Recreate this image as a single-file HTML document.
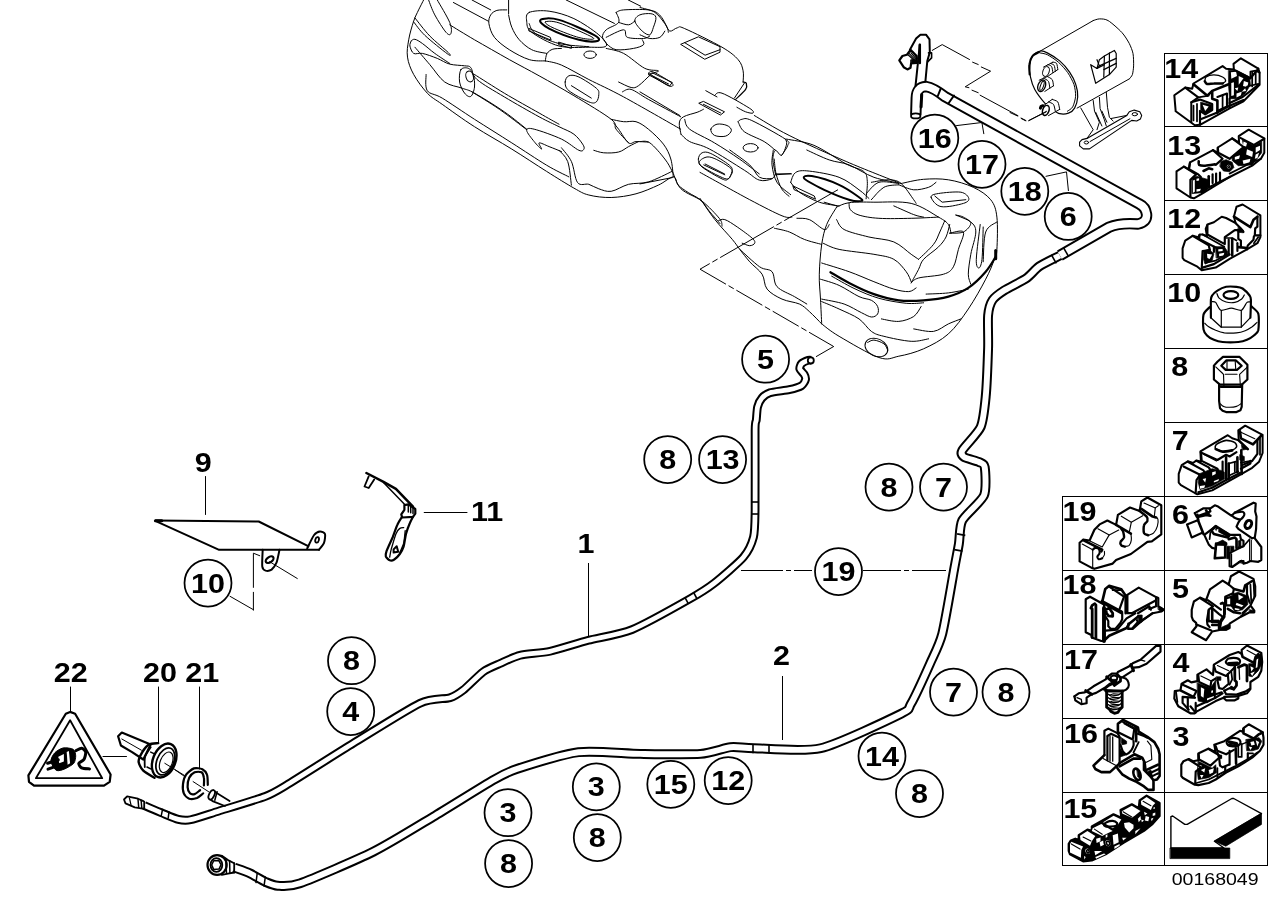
<!DOCTYPE html>
<html><head><meta charset="utf-8"><title>Fuel pipe and mounting parts</title>
<style>
html,body{margin:0;padding:0;background:#fff;}
body{width:1288px;height:910px;overflow:hidden;position:relative;}
svg{position:absolute;left:0;top:0;display:block;filter:grayscale(1);}
text{font-family:"Liberation Sans",sans-serif;font-weight:bold;fill:#000;}
.c{fill:#fff;stroke:#000;stroke-width:1.75;}
.n{font-size:28px;text-anchor:middle;}
.t{font-size:28px;text-anchor:start;}
.thin{fill:none;stroke:#000;stroke-width:1;}
.ln{fill:none;stroke:#000;stroke-width:1.2;stroke-linejoin:round;stroke-linecap:round;}
.po{fill:none;stroke:#000;stroke-width:8.8;stroke-linejoin:round;stroke-linecap:butt;}
.pi{fill:none;stroke:#fff;stroke-width:4.8;stroke-linejoin:round;stroke-linecap:butt;}
.ho{fill:none;stroke:#000;stroke-width:11.4;stroke-linejoin:round;stroke-linecap:butt;}
.qo{fill:none;stroke:#000;stroke-width:9.9;stroke-linejoin:round;stroke-linecap:butt;}
.qi{fill:none;stroke:#fff;stroke-width:5.9;stroke-linejoin:round;stroke-linecap:butt;}
.hi{fill:none;stroke:#fff;stroke-width:7.5;stroke-linejoin:round;stroke-linecap:butt;}
</style></head><body>
<svg width="1288" height="910" viewBox="0 0 1288 910">
<rect width="1288" height="910" fill="#fff"/>
<g id="tank" fill="none" stroke="#000" stroke-linejoin="round" stroke-linecap="round">
<path d="M423.6 0.0C422.8 1.7 420.3 6.4 418.6 9.9C417.0 13.5 415.3 16.1 413.7 21.1C412.0 26.1 409.7 33.7 408.7 39.8C407.7 45.8 406.6 51.3 407.5 57.1C408.3 62.9 410.4 68.5 413.7 74.5C417.0 80.5 422.6 88.2 427.3 93.2C432.1 98.1 434.4 98.8 442.2 104.3C450.1 109.9 462.9 119.3 474.5 126.7C486.1 134.2 499.8 141.6 511.8 149.1C523.8 156.5 536.2 164.9 546.6 171.4C556.9 177.9 566.9 184.1 573.9 188.1C581.0 192.0 582.6 193.5 588.8 195.0C595.0 196.6 603.3 197.7 611.2 197.5C619.0 197.3 628.2 195.9 636.0 193.8C643.9 191.7 652.2 187.9 658.4 185.1C664.6 182.3 670.0 176.9 673.3 176.9C676.6 176.9 675.8 182.5 678.3 185.1C680.7 187.7 684.5 190.1 688.2 192.5C691.9 195.0 697.1 196.9 700.6 200.0C704.1 203.1 706.1 207.2 709.3 211.2C712.5 215.1 718.2 221.5 720.0 223.6" stroke-width="1.0"/>
<path d="M426.1 74.5C426.3 77.2 424.6 86.7 427.3 90.7C430.0 94.6 434.4 93.4 442.2 98.1C450.1 102.9 462.9 111.8 474.5 119.3C486.1 126.7 499.8 135.2 511.8 142.9C523.8 150.5 537.1 159.5 546.6 165.2C556.1 170.9 565.2 174.9 568.9 176.9" stroke-width="1.0"/>
<path d="M561.5 147.8C563.1 150.1 568.7 155.7 571.4 161.5C574.1 167.3 574.7 178.8 577.6 182.6C580.5 186.4 585.3 183.3 588.8 184.3C592.3 185.4 595.0 187.7 598.8 188.8C602.5 190.0 606.2 192.0 611.2 191.3C616.1 190.6 622.4 185.9 628.6 184.3C634.8 182.8 641.2 184.0 648.4 181.9C655.7 179.7 668.1 173.2 672.0 171.4" stroke-width="1.0"/>
<path d="M559.0 150.3C560.5 152.2 565.6 155.7 567.7 161.5C569.8 167.3 570.8 181.2 571.4 185.1" stroke-width="1.0"/>
<path d="M414.9 17.9C417.4 20.9 424.2 30.2 429.8 36.0C435.4 41.8 445.5 49.7 448.4 52.7C451.3 55.6 451.1 56.6 447.2 53.7C443.3 50.8 430.4 40.6 424.8 35.3C419.3 30.0 415.5 24.1 413.7 21.9" stroke-width="1.0"/>
<path d="M428.6 0.0C429.6 2.5 431.9 9.5 434.8 14.9C437.7 20.3 443.3 29.2 446.0 32.3C448.7 35.4 450.3 35.2 450.9 33.5C451.6 31.9 452.0 28.0 449.7 22.4C447.4 16.8 439.3 3.7 437.3 0.0" stroke-width="1.0"/>
<path d="M411.2 41.0C411.0 41.8 409.5 43.9 409.9 46.0C410.4 48.0 411.6 52.2 413.7 53.4C415.7 54.7 418.4 52.6 422.4 53.4C426.3 54.2 432.7 56.6 437.3 58.4C441.8 60.2 445.1 62.9 449.7 64.1C454.2 65.3 461.1 65.3 464.6 65.8C468.1 66.4 468.7 65.3 470.8 67.6C472.9 69.9 471.4 74.6 477.0 79.5C482.6 84.4 494.0 90.7 504.3 96.9C514.7 103.1 530.0 111.8 539.1 116.8C548.2 121.7 553.2 123.8 559.0 126.7C564.8 129.6 570.0 131.3 573.9 134.2C577.8 137.1 581.0 141.6 582.6 144.1C584.3 146.6 584.5 148.0 583.9 149.1C583.2 150.1 582.6 152.0 578.9 150.3C575.2 148.7 568.9 142.7 561.5 139.1C554.0 135.6 540.0 130.6 534.2 129.2C528.4 127.7 526.7 128.4 526.7 130.4C526.7 132.5 531.7 138.5 534.2 141.6C536.6 144.7 540.8 148.9 541.6 149.1C542.4 149.3 537.9 143.3 539.1 142.9C540.4 142.4 545.3 145.1 549.1 146.6C552.8 148.0 559.4 150.7 561.5 151.6" stroke-width="1.0"/>
<path d="M411.2 41.0C411.8 40.7 413.0 38.8 414.9 39.3C416.8 39.7 419.0 41.1 422.4 43.5C425.7 45.8 430.2 50.1 434.8 53.4C439.3 56.7 447.2 61.7 449.7 63.4" stroke-width="1.0"/>
<path d="M474.5 74.5C479.5 77.6 493.6 86.7 504.3 93.2C515.1 99.6 530.0 107.9 539.1 113.0C548.2 118.2 555.7 122.4 559.0 124.2" stroke-width="1.0"/>
<path d="M460.9 69.6C459.4 71.8 459.0 78.1 459.6 82.0C460.2 85.9 462.7 90.8 464.6 93.2C466.5 95.6 469.2 97.4 470.8 96.4C472.5 95.4 474.1 90.6 474.5 87.0C474.9 83.3 474.3 77.6 473.3 74.5C472.3 71.4 470.4 69.2 468.3 68.3C466.3 67.5 462.3 67.3 460.9 69.6Z" stroke-width="1.0"/>
<ellipse cx="469.6" cy="76.5" rx="3.7" ry="5.5" transform="rotate(-15 469.6 76.5)" stroke-width="1.0"/>
<path d="M414.9 47.2C417.4 50.1 424.8 58.8 429.8 64.6C434.8 70.4 439.3 78.1 444.7 82.0C450.1 85.9 457.1 86.3 462.1 88.2C467.1 90.1 467.5 89.2 474.5 93.2C481.6 97.1 495.7 105.8 504.3 111.8C513.0 117.8 523.0 126.3 526.7 129.2" stroke-width="1.0"/>
<path d="M472.0 91.9C476.6 94.8 490.3 103.0 499.4 109.3C508.5 115.6 522.2 126.3 526.7 129.7" stroke-width="1.0"/>
<path d="M449.7 24.8C453.8 27.3 464.6 34.0 474.5 39.8C484.5 45.5 498.6 53.6 509.3 59.6C520.1 65.6 528.4 69.8 539.1 75.8C549.9 81.8 561.9 88.4 573.9 95.7C585.9 102.9 604.1 113.7 611.2 119.3C618.2 124.8 613.3 125.3 616.1 129.2C619.0 133.1 626.5 140.6 628.6 142.9" stroke-width="1.0"/>
<path d="M453.4 2.5 L488.2 21.1" stroke-width="1.0"/>
<path d="M472.0 0.0 L490.7 9.9" stroke-width="1.0"/>
<path d="M506.8 9.9C505.2 10.0 499.6 9.6 496.9 10.4C494.2 11.3 492.0 12.7 490.7 14.9C489.4 17.1 488.3 19.9 488.9 23.6C489.6 27.3 491.0 32.9 494.4 37.3C497.8 41.6 503.5 46.0 509.3 49.7C515.1 53.4 523.2 57.8 529.2 59.6C535.2 61.5 542.7 60.7 545.3 60.9" stroke-width="1.0"/>
<path d="M508.6 0.0 L508.6 13.7" stroke-width="1.0"/>
<path d="M508.6 14.9C509.1 17.0 510.0 23.2 511.8 27.3C513.6 31.5 515.9 36.0 519.3 39.8C522.6 43.5 527.1 47.4 531.7 49.7C536.2 52.0 544.1 52.8 546.6 53.4" stroke-width="1.0"/>
<path d="M529.2 12.4C532.9 10.8 541.6 10.1 549.1 11.2C556.5 12.2 565.6 14.7 573.9 18.6C582.2 22.6 593.4 30.2 598.8 34.8C604.1 39.3 607.9 43.9 606.2 46.0C604.6 48.0 596.7 47.2 588.8 47.2C581.0 47.2 568.5 48.4 559.0 46.0C549.5 43.5 537.1 36.4 531.7 32.3C526.3 28.2 527.1 24.4 526.7 21.1C526.3 17.8 525.5 14.1 529.2 12.4Z" stroke-width="1.0"/>
<path d="M540.4 19.9C542.0 18.4 550.1 17.4 559.0 19.9C567.9 22.4 587.4 31.3 593.8 34.8C600.2 38.3 600.0 40.2 597.5 41.0C595.0 41.8 587.0 41.8 578.9 39.8C570.8 37.7 555.5 31.9 549.1 28.6C542.7 25.3 538.7 21.3 540.4 19.9Z" stroke-width="2.0"/>
<path d="M545.3 21.9C546.5 21.1 551.6 20.5 559.0 22.9C566.5 25.2 584.6 33.3 590.1 36.0C595.5 38.8 594.1 39.1 591.8 39.3C589.5 39.4 583.0 38.8 576.4 36.8C569.8 34.8 557.2 29.8 552.0 27.3C546.9 24.8 544.2 22.6 545.3 21.9Z" stroke-width="1.0"/>
<path d="M529.2 28.6L550.3 37.3L551.1 40.2L529.2 31.1Z" stroke-width="1.0"/>
<path d="M559.0 42.2L571.4 46.0L571.4 48.4L559.0 44.7Z" stroke-width="1.0"/>
<path d="M616.1 12.4C617.4 12.0 618.2 10.4 623.6 9.9C629.0 9.5 642.4 9.1 648.4 9.9C654.5 10.8 656.5 12.0 659.6 14.9C662.7 17.8 665.6 24.4 667.1 27.3C668.5 30.2 668.1 31.5 668.3 32.3" stroke-width="1.0"/>
<path d="M616.1 12.4C616.6 14.1 620.3 19.5 618.6 22.4C617.0 25.3 608.9 27.3 606.2 29.8C603.5 32.3 602.3 34.8 602.5 37.3C602.7 39.8 606.6 43.5 607.5 44.7" stroke-width="1.0"/>
<path d="M634.8 21.1C634.4 18.4 637.1 16.1 639.8 14.9C642.4 13.7 648.2 13.3 650.9 13.7C653.6 14.1 655.5 15.1 655.9 17.4C656.3 19.7 654.5 24.4 653.4 27.3C652.4 30.2 651.6 34.2 649.7 34.8C647.8 35.4 644.7 33.3 642.2 31.1C639.8 28.8 635.2 23.8 634.8 21.1Z" stroke-width="1.0"/>
<path d="M606.2 37.3C609.1 36.0 620.1 29.8 623.6 29.8C627.1 29.8 624.0 35.8 627.3 37.3C630.6 38.7 639.8 38.7 643.5 38.5C647.2 38.3 648.7 36.4 649.7 36.0" stroke-width="1.0"/>
<path d="M607.5 44.7C608.9 45.5 611.8 49.1 616.1 49.7C620.5 50.3 629.0 49.3 633.5 48.4C638.1 47.6 642.0 46.2 643.5 44.7C644.9 43.3 642.4 40.6 642.2 39.8" stroke-width="1.0"/>
<path d="M618.6 22.4C620.3 22.8 625.9 25.1 628.6 24.8C631.3 24.6 633.7 21.7 634.8 21.1" stroke-width="1.0"/>
<path d="M566.2 0.0 L614.4 23.4" stroke-width="1.0"/>
<path d="M628.3 0.0 L640.7 6.2" stroke-width="1.0"/>
<path d="M529.2 23.6C530.2 25.3 530.4 30.2 535.4 33.5C540.4 36.9 550.1 41.3 559.0 43.5C567.9 45.7 583.9 46.2 588.8 46.7" stroke-width="1.0"/>
<path d="M545.3 60.9C545.6 59.6 545.8 55.4 547.1 53.4C548.3 51.5 550.4 50.0 552.8 49.2C555.2 48.4 560.0 48.6 561.5 48.4" stroke-width="1.0"/>
<path d="M545.3 60.9C548.0 61.6 554.2 62.0 561.5 65.1C568.7 68.2 578.5 74.2 588.8 79.5C599.2 84.8 608.3 88.6 623.6 96.9C638.9 105.2 671.2 123.8 680.7 129.2" stroke-width="1.0"/>
<ellipse cx="590.1" cy="54.7" rx="6.2" ry="3.7" transform="rotate(0 590.1 54.7)" stroke-width="1.0"/>
<path d="M565.2 82.0C565.2 79.5 566.7 76.6 568.9 75.8C571.2 74.9 574.3 74.9 578.9 77.0C583.4 79.1 593.0 85.3 596.3 88.2C599.6 91.1 598.8 92.1 598.8 94.4C598.8 96.7 597.9 100.6 596.3 101.9C594.6 103.1 593.4 103.7 588.8 101.9C584.3 100.0 572.9 94.0 568.9 90.7C565.0 87.4 565.2 84.5 565.2 82.0Z" stroke-width="1.0"/>
<path d="M571.4 85.7 L591.3 98.1" stroke-width="1.0"/>
<path d="M606.2 48.4C609.1 49.3 617.2 50.1 623.6 53.4C630.0 56.7 638.9 65.4 644.7 68.3C650.5 71.2 657.3 69.8 658.4 70.8C659.4 71.8 654.2 72.0 650.9 74.5C647.6 77.0 641.8 83.6 638.5 85.7C635.2 87.9 634.4 88.1 631.1 87.5C627.7 86.8 620.7 82.9 618.6 82.0" stroke-width="1.0"/>
<path d="M648.4 73.3C649.3 73.1 649.5 70.4 653.4 72.0C657.3 73.7 669.6 81.0 672.0 83.2C674.5 85.5 672.3 87.4 668.3 85.7C664.4 84.1 651.8 75.4 648.4 73.3" stroke-width="1.0"/>
<path d="M613.7 123.0C614.5 124.0 616.1 125.9 618.6 129.2C621.1 132.5 625.7 140.8 628.6 142.9C631.5 144.9 632.7 141.7 636.0 141.6C639.3 141.5 646.4 142.0 648.4 142.1" stroke-width="1.0"/>
<path d="M593.8 150.3C595.4 150.7 599.6 152.5 603.7 152.8C607.9 153.1 614.5 153.1 618.6 152.0C622.8 151.0 625.3 148.3 628.6 146.6C631.9 144.8 636.9 142.4 638.5 141.6" stroke-width="1.0"/>
<path d="M611.2 119.3C613.3 119.7 619.5 121.3 623.6 121.7C627.7 122.2 631.9 120.5 636.0 121.7C640.2 123.0 643.9 125.5 648.4 129.2C653.0 132.9 659.6 139.1 663.4 144.1C667.1 149.1 669.2 153.5 670.8 159.0C672.5 164.5 672.9 173.9 673.3 176.9" stroke-width="1.0"/>
<path d="M622.4 91.9C623.8 91.5 626.7 88.2 631.1 89.4C635.4 90.7 640.2 94.8 648.4 99.4C656.7 103.9 675.4 113.9 680.7 116.8" stroke-width="1.0"/>
<path d="M640.0 7.5C642.5 8.3 650.8 9.7 654.9 12.4C659.0 15.1 662.4 20.5 664.8 23.6C667.3 26.7 667.7 30.4 669.8 31.1C671.9 31.8 674.8 28.2 677.3 27.8C679.8 27.4 677.3 25.3 684.7 28.6C692.2 31.8 713.1 42.0 722.0 47.2C730.9 52.4 734.6 55.7 738.1 59.6C741.7 63.6 742.3 67.1 743.1 70.8C743.9 74.5 743.1 80.1 743.1 82.0" stroke-width="1.0"/>
<path d="M664.8 31.1C664.0 32.1 662.4 36.0 659.9 37.3C657.4 38.5 653.3 38.9 649.9 38.5C646.6 38.1 641.7 35.4 640.0 34.8" stroke-width="1.0"/>
<path d="M681.0 44.2L698.4 36.8L720.0 46.7L720.0 52.2L705.1 59.1Z" stroke-width="1.0"/>
<path d="M684.7 42.7L705.1 55.2L720.0 49.7" stroke-width="1.0"/>
<path d="M743.1 82.0C743.6 82.2 745.9 82.0 746.3 83.2C746.7 84.5 747.4 86.7 745.6 89.4C743.8 92.1 737.3 97.7 735.7 99.4" stroke-width="1.3"/>
<path d="M744.3 83.2 L734.4 98.1" stroke-width="1.0"/>
<path d="M705.8 90.7 L717.0 96.9" stroke-width="1.0"/>
<path d="M714.5 95.7C715.8 95.2 716.2 91.1 722.0 93.2C727.8 95.2 744.1 104.8 749.3 108.1C754.5 111.4 753.7 112.4 753.0 113.0C752.4 113.7 748.3 112.8 745.6 111.8C742.9 110.8 738.3 108.1 736.9 107.3" stroke-width="1.0"/>
<path d="M648.7 74.5L652.4 72.8L672.3 82.5L669.8 85.7Z" stroke-width="1.0"/>
<path d="M652.4 75.8 L668.6 84.0" stroke-width="1.0"/>
<path d="M699.1 103.1L703.4 101.4L724.5 111.8L720.7 114.8Z" stroke-width="1.0"/>
<path d="M703.4 104.3 L720.7 113.0" stroke-width="1.0"/>
<path d="M681.0 134.2C680.7 132.3 678.8 125.9 679.3 123.0C679.7 120.1 680.5 118.6 683.5 116.8C686.5 115.0 693.8 113.5 697.1 112.3C700.5 111.1 702.3 109.8 703.4 109.3" stroke-width="1.0"/>
<path d="M681.0 134.2C682.4 135.4 684.9 139.1 689.7 141.6C694.5 144.1 700.5 144.3 709.6 149.1C718.7 153.8 736.1 165.0 744.3 170.2C752.6 175.4 754.7 178.7 759.3 180.1C763.8 181.6 769.0 179.9 771.7 178.9C774.4 177.8 774.8 174.7 775.4 173.9" stroke-width="1.0"/>
<path d="M775.4 173.9C775.0 171.4 772.9 162.9 772.9 159.0C772.9 155.1 774.0 150.9 775.4 150.3C776.9 149.7 779.8 156.3 781.6 155.3C783.5 154.2 786.0 146.8 786.6 144.1C787.2 141.4 785.5 140.0 785.3 139.1" stroke-width="1.0"/>
<path d="M738.1 121.7C738.8 121.3 739.6 119.5 741.9 119.3C744.1 119.0 744.6 117.2 751.8 120.5C759.0 123.8 779.3 135.0 785.3 139.1C791.3 143.3 788.4 142.7 787.8 145.3C787.2 148.0 782.7 153.6 781.6 155.3" stroke-width="1.0"/>
<path d="M738.1 121.7C739.2 123.4 740.0 128.4 744.3 131.7C748.7 135.0 759.0 138.5 764.2 141.6C769.4 144.7 773.5 148.9 775.4 150.3" stroke-width="1.0"/>
<path d="M710.8 129.2C711.2 127.3 714.3 124.8 717.0 124.2C719.7 123.6 724.6 124.4 727.0 125.5C729.4 126.5 731.6 128.7 731.4 130.4C731.2 132.2 728.5 135.3 725.7 136.1C722.9 137.0 717.0 136.6 714.5 135.4C712.0 134.2 710.4 131.1 710.8 129.2Z" stroke-width="1.0"/>
<ellipse cx="750.6" cy="147.8" rx="7.5" ry="4.2" transform="rotate(0 750.6 147.8)" stroke-width="1.0"/>
<path d="M698.4 159.0C698.4 156.6 700.0 153.7 702.1 152.8C704.2 151.9 706.3 151.5 710.8 153.5C715.4 155.6 725.9 162.2 729.4 165.2C733.0 168.2 732.1 169.2 731.9 171.4C731.7 173.7 729.9 177.6 728.2 178.9C726.5 180.1 726.3 180.9 722.0 178.9C717.6 176.9 706.0 170.3 702.1 167.0C698.2 163.6 698.4 161.4 698.4 159.0Z" stroke-width="1.0"/>
<path d="M705.1 164.0 L724.5 173.9" stroke-width="1.0"/>
<path d="M754.3 115.5C760.1 118.8 773.7 127.7 789.1 135.4C804.4 143.1 828.0 153.6 846.2 161.5C864.4 169.4 889.7 179.1 898.4 182.6" stroke-width="1.0"/>
<path d="M786.6 139.1C791.1 140.2 804.0 141.2 813.9 145.3C823.9 149.5 837.9 159.6 846.2 164.0C854.5 168.3 860.1 168.5 863.6 171.4C867.1 174.3 866.9 176.8 867.3 181.4C867.7 185.9 866.3 195.9 866.1 198.8" stroke-width="1.0"/>
<path d="M640.0 91.9 L679.8 115.5" stroke-width="1.0"/>
<path d="M640.0 141.6C641.7 141.8 645.8 140.0 649.9 142.9C654.1 145.8 661.1 154.2 664.8 159.0C668.6 163.8 669.6 166.5 672.3 171.4C675.0 176.4 676.0 183.9 681.0 188.8C686.0 193.8 695.7 196.3 702.1 201.2C708.5 206.2 716.2 214.5 719.5 218.6C722.8 222.8 721.6 224.8 722.0 226.1" stroke-width="1.0"/>
<path d="M640.0 183.9 L672.3 177.6" stroke-width="1.0"/>
<path d="M684.7 119.3C685.5 120.9 684.7 125.3 689.7 129.2C694.7 133.1 706.3 137.9 714.5 142.9C722.8 147.8 731.9 153.8 739.4 159.0C746.8 164.2 755.9 171.4 759.3 173.9" stroke-width="1.0"/>
<path d="M775.4 173.9 L791.6 173.9" stroke-width="1.0"/>
<path d="M774.2 159.0C774.5 161.5 774.9 168.9 776.1 173.9C777.4 178.9 779.5 185.1 781.6 188.8C783.8 192.5 787.8 195.0 789.1 196.3" stroke-width="1.0"/>
<path d="M901.2 183.5C905.0 182.8 915.7 179.9 923.6 179.3C931.5 178.7 940.2 178.5 948.4 179.8C956.7 181.1 966.3 184.0 973.3 187.3C980.3 190.6 986.7 194.7 990.7 199.7C994.6 204.7 995.9 208.8 996.9 217.1C997.9 225.4 997.3 242.3 996.9 249.4C996.5 256.4 996.3 254.3 994.4 259.3C992.5 264.3 990.1 270.9 985.7 279.2C981.4 287.5 974.5 299.9 968.3 309.0C962.1 318.1 955.9 327.2 948.4 333.9C941.0 340.5 931.9 345.0 923.6 348.8C915.3 352.5 906.2 354.8 898.8 356.2C891.3 357.7 888.8 360.8 878.9 357.5C868.9 354.1 848.7 341.9 839.1 336.3C829.6 330.7 824.6 326.0 821.7 323.9" stroke-width="1.0"/>
<path d="M836.6 207.1C835.0 210.0 829.2 218.3 826.7 224.5C824.2 230.7 823.0 236.1 821.7 244.4C820.5 252.7 819.5 265.1 819.3 274.2C819.0 283.3 820.1 290.8 820.5 299.1C820.9 307.3 821.5 319.8 821.7 323.9" stroke-width="1.0"/>
<path d="M836.6 207.1C838.7 206.4 842.9 203.5 849.1 202.7C855.3 201.8 863.6 202.0 873.9 202.2C884.3 202.3 900.4 200.9 911.2 203.4C921.9 205.9 932.3 213.6 938.5 217.1C944.7 220.6 946.4 221.8 948.4 224.5C950.5 227.2 950.5 231.8 950.9 233.2" stroke-width="1.0"/>
<path d="M849.1 203.4C849.3 204.5 848.7 207.7 850.3 209.6C852.0 211.6 854.2 213.6 859.0 215.1C863.8 216.5 870.2 217.8 878.9 218.3C887.6 218.9 901.2 218.5 911.2 218.3C921.1 218.1 934.0 217.3 938.5 217.1" stroke-width="1.0"/>
<path d="M836.6 219.6C837.9 221.2 838.7 226.6 844.1 229.5C849.5 232.4 860.7 234.9 868.9 237.0C877.2 239.0 886.7 239.0 893.8 241.9C900.8 244.8 907.0 251.4 911.2 254.3C915.3 257.2 917.4 258.5 918.6 259.3" stroke-width="1.0"/>
<path d="M823.0 243.2C825.7 244.2 830.6 247.5 839.1 249.4C847.6 251.2 864.8 252.7 873.9 254.3C883.0 256.0 888.4 256.4 893.8 259.3C899.2 262.2 903.3 268.0 906.2 271.7C909.1 275.5 910.4 280.0 911.2 281.7" stroke-width="1.0"/>
<path d="M821.7 263.0C826.3 264.5 840.4 268.6 849.1 271.7C857.8 274.8 866.5 278.8 873.9 281.7C881.4 284.6 888.0 287.5 893.8 289.1C899.6 290.8 905.0 291.8 908.7 291.6C912.4 291.4 914.9 288.5 916.1 287.9" stroke-width="1.0"/>
<path d="M949.7 224.5C949.1 226.6 947.8 233.2 946.0 237.0C944.1 240.7 942.2 243.2 938.5 246.9C934.8 250.6 926.9 255.6 923.6 259.3C920.3 263.0 920.7 265.3 918.6 269.3C916.6 273.2 912.4 280.6 911.2 282.9" stroke-width="1.0"/>
<path d="M944.7 220.8C943.9 222.7 941.6 228.1 939.8 232.0C937.9 235.9 937.1 239.9 933.5 244.4C930.0 249.0 921.1 256.8 918.6 259.3" stroke-width="1.0"/>
<path d="M911.2 282.9C912.4 282.1 913.3 279.4 918.6 278.0C924.0 276.5 937.7 276.1 943.5 274.2C949.3 272.4 950.9 270.9 953.4 266.8C955.9 262.6 956.7 255.2 958.4 249.4C960.0 243.6 964.8 234.7 963.4 232.0C961.9 229.3 952.0 233.0 949.7 233.2" stroke-width="1.0"/>
<path d="M949.7 233.2C952.0 233.0 959.8 233.6 963.4 232.0C966.9 230.3 970.8 225.8 970.8 223.3C970.8 220.8 965.8 218.4 963.4 217.1C960.9 215.7 957.1 215.4 955.9 215.1" stroke-width="1.0"/>
<path d="M830.4 272.2C833.5 274.0 841.8 279.3 849.1 282.9C856.3 286.6 865.6 291.2 873.9 294.1C882.2 297.0 890.5 299.3 898.8 300.3C907.0 301.3 915.3 300.9 923.6 300.3C931.9 299.7 941.0 298.7 948.4 296.6C955.9 294.5 962.1 292.0 968.3 287.9C974.5 283.7 981.2 276.9 985.7 271.7C990.3 266.6 994.0 259.3 995.7 256.8" stroke-width="2.2"/>
<path d="M831.7 276.2C835.4 278.2 846.2 284.7 854.0 288.4C861.9 292.1 870.2 295.8 878.9 298.3C887.6 300.8 898.8 302.5 906.2 303.3C913.7 304.0 920.7 302.9 923.6 302.8" stroke-width="1.0"/>
<path d="M995.7 250.6 L995.7 258.8" stroke-width="3"/>
<path d="M820.5 279.2C823.6 280.2 832.7 282.5 839.1 285.4C845.5 288.3 853.6 294.1 859.0 296.6C864.4 299.1 868.3 298.7 871.4 300.3C874.5 302.0 876.6 304.2 877.6 306.5C878.7 308.8 878.7 312.2 877.6 314.0C876.6 315.7 874.1 317.2 871.4 317.0C868.7 316.7 866.0 314.9 861.5 312.7C856.9 310.6 850.7 306.3 844.1 304.0C837.5 301.8 825.5 299.9 821.7 299.1" stroke-width="1.0"/>
<path d="M821.7 301.6C824.6 302.8 832.9 306.1 839.1 309.0C845.3 311.9 853.6 315.2 859.0 318.9C864.4 322.7 867.3 328.5 871.4 331.4C875.6 334.3 877.2 334.7 883.9 336.3C890.5 338.0 903.7 340.9 911.2 341.3C918.6 341.7 925.7 339.2 928.6 338.8" stroke-width="1.0"/>
<path d="M881.4 318.9C884.3 319.4 893.4 321.8 898.8 321.4C904.1 321.0 909.9 318.9 913.7 316.5C917.4 314.0 919.9 308.2 921.1 306.5" stroke-width="1.0"/>
<path d="M913.7 328.9C917.0 329.3 927.7 332.2 933.5 331.4C939.3 330.5 943.9 326.0 948.4 323.9C953.0 321.8 958.8 319.8 960.9 318.9" stroke-width="1.0"/>
<path d="M926.1 294.1C929.8 293.9 941.4 293.7 948.4 292.9C955.5 292.0 965.0 289.8 968.3 289.1" stroke-width="1.0"/>
<ellipse cx="876.4" cy="347.5" rx="11.9" ry="8.7" transform="rotate(25 876.4 347.5)" stroke-width="1.0"/>
<path d="M867.7 342.5C868.7 342.1 871.2 339.9 873.9 340.1C876.6 340.3 881.6 342.1 883.9 343.8C886.1 345.4 887.0 349.0 887.6 350.0" stroke-width="1.0"/>
<path d="M980.2 224.5C979.6 230.3 976.5 252.1 976.3 259.3C976.0 266.6 977.8 268.0 978.8 268.0C979.7 268.0 981.2 266.1 982.0 259.3C982.7 252.5 983.0 232.4 983.2 227.0" stroke-width="1.0"/>
<path d="M955.9 215.1C958.4 216.3 967.5 219.2 970.8 222.0C974.1 224.9 975.8 226.6 975.8 232.0C975.8 237.4 972.0 247.3 970.8 254.3C969.6 261.4 968.3 269.3 968.3 274.2C968.3 279.2 970.4 282.5 970.8 284.2" stroke-width="1.0"/>
<path d="M996.9 222.0C995.0 223.7 988.0 225.4 985.7 232.0C983.4 238.6 983.6 256.8 983.2 261.8" stroke-width="1.0"/>
<path d="M931.1 197.2C930.6 195.0 933.5 194.3 938.5 193.5C943.5 192.7 955.8 191.4 960.9 192.2C965.9 193.1 968.4 196.6 968.8 198.4C969.2 200.3 968.0 202.0 963.4 203.4C958.7 204.8 946.4 207.7 941.0 206.6C935.6 205.6 931.5 199.4 931.1 197.2Z" stroke-width="1.0"/>
<path d="M934.8 196.0L942.2 202.2L965.8 199.7" stroke-width="1.0"/>
<path d="M790.7 182.3C791.5 180.6 792.5 174.2 795.7 172.4C798.8 170.5 802.1 170.3 809.3 171.1C816.6 171.9 830.8 174.2 839.1 177.3C847.4 180.4 854.0 186.2 859.0 189.8C864.0 193.3 867.3 197.0 868.9 198.4" stroke-width="1.0"/>
<path d="M790.7 182.3C792.1 184.0 794.6 188.9 799.4 192.2C804.1 195.5 812.6 199.9 819.3 202.2C825.9 204.5 835.8 205.3 839.1 205.9" stroke-width="1.0"/>
<path d="M804.3 178.6C802.3 176.3 806.0 175.1 811.8 176.1C817.6 177.1 831.3 181.3 839.1 184.8C847.0 188.3 855.3 194.5 859.0 197.2C862.7 199.9 863.1 200.5 861.5 200.9C859.8 201.3 855.3 201.6 849.1 199.7C842.9 197.8 831.7 193.3 824.2 189.8C816.8 186.2 806.4 180.8 804.3 178.6Z" stroke-width="2.0"/>
<path d="M793.2 186.0L814.3 196.0L815.5 199.2L794.4 189.8Z" stroke-width="1.0"/>
<path d="M824.2 202.2 L836.6 205.9" stroke-width="1.0"/>
<path d="M773.3 150.0C773.1 152.5 771.4 159.5 772.0 164.9C772.7 170.3 773.9 177.3 777.0 182.3C780.1 187.3 788.4 192.7 790.7 194.7" stroke-width="1.0"/>
<path d="M775.8 174.8 L790.7 173.6" stroke-width="1.0"/>
<path d="M700.0 164.9C696.7 161.4 702.5 158.5 705.0 157.5C707.5 156.4 710.6 156.8 714.9 158.7C719.3 160.6 728.4 165.9 731.1 168.6C733.7 171.3 732.1 173.2 731.1 174.8C730.0 176.5 730.0 180.2 724.8 178.6C719.7 176.9 703.3 168.4 700.0 164.9Z" stroke-width="1.0"/>
<path d="M703.7 164.9 L724.8 174.8" stroke-width="1.0"/>
<path d="M700.0 172.4C708.3 176.9 736.0 192.4 749.7 199.7C763.4 206.9 774.9 212.9 782.0 215.8C789.0 218.7 790.3 216.9 791.9 217.1" stroke-width="1.0"/>
<path d="M729.8 150.0C733.1 152.5 744.7 160.4 749.7 164.9C754.7 169.5 755.9 175.1 759.6 177.3C763.4 179.6 770.0 178.4 772.0 178.6" stroke-width="1.0"/>
<path d="M700.0 198.4C702.5 202.0 709.5 212.7 714.9 219.6C720.3 226.4 728.2 234.5 732.3 239.4C736.4 244.4 736.9 245.7 739.8 249.4C742.7 253.1 746.0 257.7 749.7 261.8C753.4 265.9 759.2 269.7 762.1 274.2C765.0 278.8 763.8 285.0 767.1 289.1C770.4 293.3 776.6 296.6 782.0 299.1C787.4 301.6 794.8 302.0 799.4 304.0C803.9 306.1 805.6 308.2 809.3 311.5C813.0 314.8 819.7 321.8 821.7 323.9" stroke-width="1.0"/>
<path d="M718.6 220.8C719.7 220.6 721.7 218.5 724.8 219.6C728.0 220.6 732.7 223.9 737.3 227.0C741.8 230.1 749.3 235.5 752.2 238.2C755.1 240.9 755.1 241.9 754.7 243.2C754.2 244.4 751.8 245.7 749.7 245.7C747.6 245.7 743.5 243.6 742.2 243.2" stroke-width="1.0"/>
<path d="M739.8 249.4C743.1 252.3 754.2 263.0 759.6 266.8C765.0 270.5 769.2 268.4 772.0 271.7C774.9 275.1 773.3 282.5 777.0 286.6C780.7 290.8 789.4 293.7 794.4 296.6C799.4 299.5 804.8 302.8 806.8 304.0" stroke-width="1.0"/>
<path d="M774.5 228.3C777.0 228.9 784.5 230.1 789.4 232.0C794.4 233.9 799.0 237.4 804.3 239.4C809.7 241.5 818.8 243.6 821.7 244.4" stroke-width="1.0"/>
<path d="M796.9 218.3C799.0 218.5 804.8 217.7 809.3 219.6C813.9 221.4 820.9 228.7 824.2 229.5C827.5 230.3 828.4 225.4 829.2 224.5" stroke-width="1.0"/>
<path d="M806.8 150.0C810.6 151.7 822.2 157.5 829.2 159.9C836.2 162.4 841.6 162.0 849.1 164.9C856.5 167.8 865.2 174.2 873.9 177.3C882.6 180.4 896.7 182.5 901.2 183.5" stroke-width="1.0"/>
<path d="M871.4 182.3C874.3 181.9 883.9 179.6 888.8 179.8C893.8 180.0 897.1 180.2 901.2 183.5C905.4 186.9 911.2 196.4 913.7 199.7C916.1 203.0 915.7 202.8 916.1 203.4" stroke-width="1.0"/>
<path d="M866.5 193.5C868.5 191.6 873.5 184.0 878.9 182.3C884.3 180.6 895.4 183.3 898.8 183.5" stroke-width="1.0"/>
<path d="M871.4 199.7C873.5 197.6 879.3 189.8 883.9 187.3C888.4 184.8 896.3 185.2 898.8 184.8" stroke-width="1.0"/>
<path d="M898.8 184.8C901.2 185.6 908.7 189.3 913.7 189.8C918.6 190.2 924.8 188.5 928.6 187.3C932.3 186.0 934.8 183.1 936.0 182.3" stroke-width="1.0"/>
<path d="M893.8 205.9C897.1 207.3 908.7 212.7 913.7 214.6C918.6 216.5 921.9 216.7 923.6 217.1" stroke-width="1.0"/>
</g>
<g id="grid" class="thin" shape-rendering="crispEdges">
<path d="M1164.5 53.5H1267.5V865.5H1062.5V496.5H1164.5ZM1164.5 496.5V865.5M1164.5 126.5H1267.5M1164.5 200.5H1267.5M1164.5 274.5H1267.5M1164.5 348.5H1267.5M1164.5 422.5H1267.5M1164.5 496.5H1267.5M1062.5 570.5H1267.5M1062.5 644.5H1267.5M1062.5 718.5H1267.5M1062.5 792.5H1267.5"/>
</g>
<g id="icons" stroke-linejoin="round" stroke-linecap="round">
<path d="M1174.3 95.2L1185.2 87.6L1192.2 88.7L1193.5 83.5L1222.6 66.1L1226.1 68.7L1233.9 69.6L1233.5 63.9L1240.9 58.3L1258.3 68.7L1259.6 72.6L1259.6 84.8L1243.5 101.3L1229.6 108.3L1200.0 124.8L1194.8 125.2L1175.7 111.3Z" fill="#fff" stroke="#000" stroke-width="2.00"/>
<path d="M1228.7 70.4L1236.5 70.4L1249.6 77.0L1250.4 84.8L1245.2 93.5L1238.3 98.7L1229.6 98.7L1228.7 87.4Z" fill="#000" stroke="#000" stroke-width="0.70"/>
<path d="M1238.7 76.1L1243.5 78.3L1238.7 84.8Z" fill="#fff" stroke="none"/>
<path d="M1234.8 88.3L1238.3 87.4L1237.4 90.9Z" fill="#fff" stroke="none"/>
<path d="M1241.7 91.7L1245.2 88.3L1246.1 90.9Z" fill="#fff" stroke="none"/>
<path d="M1231.3 83.0L1233.9 82.2L1233.9 95.2L1231.3 96.1Z" fill="#fff" stroke="none"/>
<path d="M1230.9 72.2L1236.1 71.7L1237.0 76.1L1231.3 78.7Z" fill="#fff" stroke="none"/>
<path d="M1243.9 80.9L1248.3 82.6L1247.4 87.0L1243.0 86.1Z" fill="#fff" stroke="none"/>
<path d="M1236.5 93.5L1241.7 91.7L1240.9 95.2L1236.5 97.4Z" fill="#fff" stroke="none"/>
<path d="M1185.2 87.6L1198.3 97.4L1191.3 102.2L1191.3 122.2" fill="none" stroke="#000" stroke-width="2.00"/>
<path d="M1193.5 84.3L1207.4 95.7L1212.2 90.9L1228.7 84.3" fill="none" stroke="#000" stroke-width="2.61"/>
<path d="M1198.3 97.4L1208.7 95.7" fill="none" stroke="#000" stroke-width="1.74"/>
<path d="M1204.8 81.3C1205.0 80.7 1204.9 77.8 1206.1 77.0C1207.3 76.1 1211.7 74.8 1213.9 74.8C1216.1 74.8 1221.0 76.1 1222.6 77.0C1224.2 77.8 1225.7 80.0 1225.7 80.9C1225.7 81.7 1223.0 83.1 1222.6 83.5" fill="none" stroke="#000" stroke-width="1.30"/>
<path d="M1204.8 81.3C1205.1 81.7 1205.7 83.6 1207.0 83.9C1208.2 84.2 1211.8 83.5 1213.9 83.5C1216.0 83.4 1221.4 83.5 1222.6 83.5" fill="none" stroke="#000" stroke-width="2.61"/>
<path d="M1233.9 69.6L1250.4 78.3L1258.3 68.7" fill="none" stroke="#000" stroke-width="2.17"/>
<path d="M1250.4 78.3L1250.4 71.7L1255.7 70.7L1259.6 72.8" fill="none" stroke="#000" stroke-width="1.74"/>
<path d="M1191.3 102.2L1200.0 99.6L1212.2 103.9L1212.2 110.0L1205.2 114.3L1200.0 110.9L1200.0 124.8" fill="none" stroke="#000" stroke-width="2.17"/>
<path d="M1200.9 102.2L1211.3 104.8L1211.3 110.0L1205.2 113.9L1200.9 110.0Z" fill="#000" stroke="#000" stroke-width="0.70"/>
<path d="M1202.6 104.8L1208.7 106.5L1205.2 110.9Z" fill="#fff" stroke="none"/>
<path d="M1212.2 91.7L1212.2 98.7L1217.4 100.4L1217.4 112.6" fill="none" stroke="#000" stroke-width="2.61"/>
<path d="M1217.4 97.0L1227.0 93.5L1227.0 106.5L1217.4 110.9" fill="none" stroke="#000" stroke-width="2.17"/>
<path d="M1222.6 95.2L1222.6 107.4" fill="none" stroke="#000" stroke-width="1.74"/>
<path d="M1252.2 72.6L1252.2 86.5" fill="none" stroke="#000" stroke-width="1.74"/>
<path d="M1255.7 71.7L1255.7 83.9" fill="none" stroke="#000" stroke-width="1.74"/>
<path d="M1247.0 86.5L1258.3 83.9" fill="none" stroke="#000" stroke-width="1.74"/>
<path d="M1229.6 103.0L1242.6 97.0L1258.3 84.8" fill="none" stroke="#000" stroke-width="2.17"/>
<path d="M1200.0 119.6L1217.4 112.6L1229.6 105.7L1243.5 100.0" fill="none" stroke="#000" stroke-width="2.17"/>
<path d="M1193.5 105.7L1193.5 120.4" fill="none" stroke="#000" stroke-width="1.74"/>
<path d="M1197.0 103.9L1197.0 121.3" fill="none" stroke="#000" stroke-width="1.74"/>
<path d="M1229.6 98.7L1229.6 107.4" fill="none" stroke="#000" stroke-width="2.17"/>
<path d="M1176.5 171.4L1183.9 166.6L1188.7 169.2L1190.0 162.3L1213.0 150.1L1217.4 152.7L1217.8 147.5L1232.2 138.3L1239.1 142.7L1238.7 136.2L1248.7 129.7L1264.3 138.3L1264.3 152.7L1260.9 158.8L1252.2 165.7L1229.6 177.0L1200.9 194.4L1193.9 198.3L1190.4 197.5L1176.5 188.3Z" fill="#fff" stroke="#000" stroke-width="2.00"/>
<path d="M1242.6 139.7L1253.9 145.7L1261.7 141.4L1261.7 152.7L1252.2 164.9L1238.3 165.7L1232.2 160.5L1232.2 156.2L1243.5 147.5Z" fill="#000" stroke="#000" stroke-width="0.70"/>
<path d="M1247.0 149.2L1253.0 151.8L1252.2 157.0L1246.1 154.4Z" fill="#fff" stroke="none"/>
<path d="M1255.7 147.5L1260.0 145.7L1260.0 150.1L1255.7 152.7Z" fill="#fff" stroke="none"/>
<path d="M1234.8 157.0L1240.0 155.3L1239.1 158.8L1234.8 159.7Z" fill="#fff" stroke="none"/>
<path d="M1242.6 160.5L1250.4 158.8L1249.6 162.3L1243.5 164.0Z" fill="#fff" stroke="none"/>
<path d="M1243.5 141.4L1247.0 143.1L1246.1 146.6L1243.0 145.7Z" fill="#fff" stroke="none"/>
<path d="M1255.7 154.4L1259.1 152.7L1257.4 157.9L1254.8 158.8Z" fill="#fff" stroke="none"/>
<path d="M1192.2 177.9L1196.5 176.2L1208.7 179.7L1208.7 186.6L1201.7 192.7L1192.2 193.6Z" fill="#000" stroke="#000" stroke-width="0.70"/>
<path d="M1196.5 178.8L1199.1 178.3L1199.1 180.5L1196.5 181.0Z" fill="#fff" stroke="none"/>
<path d="M1193.0 180.5L1194.8 179.7L1194.8 191.8L1193.0 192.7Z" fill="#fff" stroke="none"/>
<path d="M1196.5 189.2L1200.9 188.8L1200.0 191.0L1196.5 191.8Z" fill="#fff" stroke="none"/>
<path d="M1220.9 161.4L1226.1 159.7L1232.2 162.3L1233.9 167.5L1229.6 171.8L1223.5 171.0L1220.0 166.6Z" fill="#000" stroke="#000" stroke-width="0.70"/>
<ellipse cx="1228.7" cy="166.6" rx="2.8" ry="2.8" transform="rotate(0 1228.7 166.6)" fill="#fff" stroke="#000" stroke-width="1.74"/>
<ellipse cx="1228.7" cy="166.6" rx="1.0" ry="1.0" transform="rotate(0 1228.7 166.6)" fill="none" stroke="#000" stroke-width="1.30"/>
<path d="M1183.9 166.6L1196.1 174.4L1190.4 179.7L1190.4 197.0" fill="none" stroke="#000" stroke-width="2.17"/>
<path d="M1190.0 162.7L1189.1 169.2L1198.3 174.4L1200.9 177.0" fill="none" stroke="#000" stroke-width="2.17"/>
<path d="M1213.0 150.1L1222.6 158.8L1215.7 164.9" fill="none" stroke="#000" stroke-width="2.17"/>
<path d="M1198.7 161.4C1198.8 161.9 1198.3 164.3 1199.1 164.9C1200.0 165.4 1203.1 165.8 1205.2 165.7C1207.3 165.7 1213.5 164.6 1214.8 164.4" fill="none" stroke="#000" stroke-width="2.61"/>
<path d="M1217.8 147.9L1218.3 152.7L1229.6 158.8L1243.5 147.0L1232.2 138.3" fill="none" stroke="#000" stroke-width="2.17"/>
<path d="M1240.4 137.9L1253.9 144.9L1264.3 138.8" fill="none" stroke="#000" stroke-width="2.17"/>
<path d="M1253.9 144.9L1253.9 152.7" fill="none" stroke="#000" stroke-width="1.74"/>
<path d="M1203.5 171.0L1208.7 168.3L1212.2 169.2" fill="none" stroke="#000" stroke-width="2.61"/>
<path d="M1208.7 176.2L1208.7 186.6" fill="none" stroke="#000" stroke-width="2.61"/>
<path d="M1212.6 174.4L1212.6 183.1" fill="none" stroke="#000" stroke-width="2.17"/>
<path d="M1216.1 173.6L1216.1 183.1" fill="none" stroke="#000" stroke-width="2.17"/>
<path d="M1220.0 172.7L1220.0 181.4" fill="none" stroke="#000" stroke-width="2.17"/>
<path d="M1201.7 192.7L1208.7 187.5L1229.6 177.0" fill="none" stroke="#000" stroke-width="2.17"/>
<path d="M1260.9 158.8L1252.2 162.3L1238.3 169.2L1229.6 173.6" fill="none" stroke="#000" stroke-width="1.74"/>
<path d="M1182.6 248.4L1185.2 240.6L1192.6 235.8L1198.3 237.1L1199.6 234.5L1202.6 234.5L1207.0 236.3L1205.7 228.9L1207.4 224.5L1213.9 222.3L1221.7 216.7L1226.1 218.0L1235.7 223.2L1233.9 216.7L1236.5 206.7L1242.6 204.5L1260.4 215.4L1260.4 237.1L1257.4 243.2L1247.0 249.3L1229.6 258.9L1215.7 267.6L1201.7 270.2L1197.4 266.7L1184.3 260.2L1182.6 258.0Z" fill="#fff" stroke="#000" stroke-width="2.00"/>
<path d="M1192.6 235.8L1208.7 245.4L1210.0 250.2L1202.6 251.0L1201.7 269.3" fill="none" stroke="#000" stroke-width="2.17"/>
<path d="M1199.6 235.0L1199.1 238.9L1220.9 250.2" fill="none" stroke="#000" stroke-width="2.17"/>
<path d="M1202.6 234.5L1224.3 246.7" fill="none" stroke="#000" stroke-width="1.74"/>
<path d="M1207.4 225.0L1207.4 234.5L1224.8 244.1L1224.8 237.1L1234.8 230.2L1238.3 230.2" fill="none" stroke="#000" stroke-width="2.17"/>
<path d="M1235.7 223.2L1240.9 228.4L1243.5 231.9" fill="none" stroke="#000" stroke-width="2.17"/>
<path d="M1238.3 227.6L1243.5 230.2L1243.5 232.8L1238.3 232.3Z" fill="#000" stroke="#000" stroke-width="0.70"/>
<path d="M1233.9 216.7L1250.4 227.1L1253.5 219.7L1257.4 216.7" fill="none" stroke="#000" stroke-width="2.61"/>
<path d="M1257.4 216.7L1257.4 226.7L1255.2 228.4L1254.8 235.4L1260.4 235.4" fill="none" stroke="#000" stroke-width="2.17"/>
<path d="M1238.3 230.2L1238.3 238.9L1240.9 240.6L1240.9 246.7" fill="none" stroke="#000" stroke-width="2.17"/>
<path d="M1226.1 238.0L1232.2 238.0L1236.5 240.6" fill="none" stroke="#000" stroke-width="1.74"/>
<path d="M1232.2 238.9L1232.2 255.4" fill="none" stroke="#000" stroke-width="2.61"/>
<path d="M1228.7 239.7L1228.7 253.7" fill="none" stroke="#000" stroke-width="2.17"/>
<path d="M1238.3 247.1L1247.0 248.0" fill="none" stroke="#000" stroke-width="2.61"/>
<path d="M1237.4 243.2L1237.4 251.0" fill="none" stroke="#000" stroke-width="2.17"/>
<path d="M1247.0 249.3L1247.8 245.4L1253.5 239.7L1253.9 236.3" fill="none" stroke="#000" stroke-width="2.17"/>
<path d="M1253.9 243.2L1258.3 237.1" fill="none" stroke="#000" stroke-width="1.74"/>
<path d="M1203.5 251.0L1208.7 249.3L1213.9 253.7L1212.2 260.6L1205.2 264.1L1203.5 258.9Z" fill="#000" stroke="#000" stroke-width="0.70"/>
<path d="M1207.0 253.7L1212.2 254.5L1209.6 258.9L1207.4 258.0Z" fill="#fff" stroke="none"/>
<path d="M1215.7 246.7L1224.3 246.7L1227.8 251.9L1226.1 257.1L1216.5 258.0Z" fill="#000" stroke="#000" stroke-width="0.70"/>
<path d="M1218.3 249.3L1222.6 248.9L1222.6 251.0L1218.3 251.5Z" fill="#fff" stroke="none"/>
<path d="M1219.1 253.7L1224.3 252.8L1223.5 255.4L1219.1 256.3Z" fill="#fff" stroke="none"/>
<path d="M1202.6 267.6L1213.9 264.1L1229.6 254.5" fill="none" stroke="#000" stroke-width="2.17"/>
<path d="M1205.2 262.8L1215.7 260.6L1228.7 253.7" fill="none" stroke="#000" stroke-width="1.74"/>
<path d="M1213.9 246.7L1213.9 251.9" fill="none" stroke="#000" stroke-width="2.17"/>
<path d="M1209.6 307.2C1208.8 308.2 1204.3 311.7 1203.5 314.6C1202.7 317.6 1203.0 326.6 1203.5 329.4C1203.9 332.2 1205.6 334.1 1207.0 335.5C1208.3 336.9 1211.8 339.0 1213.9 339.8C1216.0 340.7 1219.4 341.7 1222.6 342.0C1225.9 342.3 1235.0 342.3 1238.3 342.0C1241.5 341.7 1244.9 340.7 1247.0 339.8C1249.0 339.0 1252.4 336.8 1253.9 335.5C1255.4 334.2 1257.7 333.2 1258.3 330.3C1258.8 327.4 1259.2 316.9 1258.3 313.7C1257.3 310.6 1252.2 307.3 1251.3 306.3" fill="none" stroke="#000" stroke-width="2.17"/>
<path d="M1210.9 317.7C1210.9 315.3 1210.7 302.8 1210.9 299.8C1211.0 296.9 1211.3 296.7 1212.2 295.5C1213.0 294.3 1215.5 291.9 1217.4 290.7C1219.2 289.5 1223.5 287.3 1226.1 286.8C1228.6 286.3 1234.3 286.6 1236.5 286.8C1238.7 287.0 1240.9 287.4 1242.6 288.5C1244.3 289.7 1248.5 294.0 1249.6 295.5C1250.7 297.0 1250.8 296.9 1250.9 299.8C1251.0 302.8 1250.5 315.3 1250.4 317.7" fill="none" stroke="#000" stroke-width="2.17"/>
<path d="M1204.8 323.3C1205.3 323.8 1207.2 325.9 1208.7 326.8C1210.1 327.7 1213.6 329.4 1215.7 330.3C1217.7 331.1 1221.6 332.5 1224.3 332.9C1227.1 333.2 1233.7 333.2 1236.5 332.9C1239.3 332.6 1243.1 331.5 1245.2 330.7C1247.3 329.9 1250.6 327.9 1252.2 326.8C1253.7 325.7 1256.3 323.0 1257.0 322.4" fill="none" stroke="#000" stroke-width="1.22"/>
<path d="M1210.9 317.7L1221.3 327.2L1241.3 327.2L1250.4 317.7" fill="none" stroke="#000" stroke-width="1.22"/>
<path d="M1221.3 327.2L1221.3 311.1" fill="none" stroke="#000" stroke-width="1.22"/>
<path d="M1241.3 327.2L1241.3 310.7" fill="none" stroke="#000" stroke-width="1.22"/>
<path d="M1212.2 301.6C1212.6 301.7 1214.5 301.3 1215.7 302.4C1216.8 303.6 1218.8 309.5 1220.9 310.3C1223.0 311.0 1228.6 308.1 1231.3 308.1C1234.0 308.1 1239.2 311.0 1241.3 310.3C1243.4 309.5 1245.7 303.5 1247.0 302.4C1248.2 301.3 1250.0 302.1 1250.4 302.0" fill="none" stroke="#000" stroke-width="1.22"/>
<path d="M1217.0 293.7C1217.2 294.3 1217.9 297.0 1219.1 298.1C1220.3 299.2 1224.0 301.4 1226.1 302.0C1228.2 302.6 1232.7 302.8 1234.8 302.4C1236.9 302.0 1240.5 299.9 1241.7 299.0C1243.0 298.0 1244.0 295.6 1244.3 295.0" fill="none" stroke="#000" stroke-width="1.22"/>
<ellipse cx="1230.9" cy="295.0" rx="7.4" ry="3.9" transform="rotate(0 1230.9 295.0)" fill="none" stroke="#000" stroke-width="2.17"/>
<path d="M1213.9 365.6L1217.4 361.7L1223.0 356.9L1239.6 356.9L1247.4 364.7L1247.4 379.5L1242.2 384.3L1220.0 384.7L1213.9 379.5Z" fill="none" stroke="#000" stroke-width="2.17"/>
<path d="M1220.9 386.7L1241.7 386.7" fill="none" stroke="#000" stroke-width="2.61"/>
<path d="M1215.7 366.9L1222.2 373.0L1223.5 374.3L1223.9 386.0" fill="none" stroke="#000" stroke-width="1.13"/>
<path d="M1247.0 367.3L1239.6 374.3L1240.4 386.0" fill="none" stroke="#000" stroke-width="1.13"/>
<path d="M1225.2 374.3L1237.0 374.3" fill="none" stroke="#000" stroke-width="1.13"/>
<path d="M1221.3 365.8L1226.5 360.3L1235.7 360.3L1241.7 365.8L1237.0 369.9L1225.7 369.9Z" fill="none" stroke="#000" stroke-width="2.17"/>
<path d="M1227.0 360.8L1227.0 369.0" fill="none" stroke="#000" stroke-width="1.13"/>
<path d="M1235.2 360.8L1235.7 369.0" fill="none" stroke="#000" stroke-width="1.13"/>
<path d="M1219.1 384.7L1219.1 400.8L1220.0 408.2L1222.6 410.8L1226.1 412.1L1236.5 412.1L1240.4 410.3L1241.7 406.9L1242.2 384.3" fill="none" stroke="#000" stroke-width="2.17"/>
<path d="M1220.4 403.8C1220.8 404.2 1222.3 406.0 1223.5 406.4C1224.7 406.9 1227.8 407.3 1229.6 407.3C1231.3 407.3 1235.0 406.9 1236.5 406.4C1238.0 406.0 1240.3 404.2 1240.9 403.8" fill="none" stroke="#000" stroke-width="1.13"/>
<path d="M1178.7 482.6L1178.7 473.9L1181.7 465.2L1187.8 461.3L1193.0 463.0L1196.5 460.4L1200.9 461.7L1200.4 451.3L1227.8 435.2L1232.2 438.3L1238.7 440.4L1238.3 430.4L1245.2 425.7L1262.6 434.8L1262.6 453.0L1259.1 461.7L1252.2 467.8L1240.0 474.8L1212.2 490.4L1197.4 494.3L1194.8 493.0L1180.9 485.2Z" fill="#fff" stroke="#000" stroke-width="2.00"/>
<path d="M1199.1 473.9L1212.2 468.7L1220.9 470.4L1224.3 472.2L1224.3 479.1L1212.2 486.1L1200.0 489.6L1198.3 482.6Z" fill="#000" stroke="#000" stroke-width="0.70"/>
<path d="M1202.6 479.1L1206.1 478.3L1205.2 482.6Z" fill="#fff" stroke="none"/>
<path d="M1212.2 472.2L1215.7 471.3L1215.7 473.9L1212.2 475.7Z" fill="#fff" stroke="none"/>
<path d="M1200.0 486.1L1205.2 485.2L1204.3 487.8L1200.0 488.7Z" fill="#fff" stroke="none"/>
<path d="M1213.9 480.9L1219.1 479.1L1218.3 480.9L1213.9 482.6Z" fill="#fff" stroke="none"/>
<path d="M1183.5 466.5L1200.0 474.8L1196.5 480.0L1195.7 492.2" fill="none" stroke="#000" stroke-width="2.17"/>
<path d="M1187.8 461.7L1203.5 470.4L1205.2 473.9" fill="none" stroke="#000" stroke-width="2.17"/>
<path d="M1196.5 460.9L1208.7 467.4L1211.3 471.3" fill="none" stroke="#000" stroke-width="2.17"/>
<path d="M1200.9 452.2L1201.7 460.9L1217.4 468.7L1219.1 473.9" fill="none" stroke="#000" stroke-width="2.17"/>
<path d="M1200.9 452.6L1217.4 460.0L1226.1 454.8L1229.6 456.5L1236.5 452.2" fill="none" stroke="#000" stroke-width="2.17"/>
<path d="M1203.5 454.3L1216.5 460.9" fill="none" stroke="#000" stroke-width="1.13"/>
<path d="M1215.7 448.7C1214.8 447.8 1215.1 445.4 1216.5 444.3C1217.9 443.2 1223.7 440.7 1226.1 440.4C1228.5 440.2 1233.4 441.7 1234.8 442.6C1236.2 443.5 1237.0 445.9 1236.5 447.0C1236.1 448.0 1233.2 449.9 1231.3 450.4C1229.4 451.0 1224.7 451.5 1222.6 451.3C1220.5 451.1 1216.5 449.6 1215.7 448.7Z" fill="none" stroke="#000" stroke-width="1.57"/>
<path d="M1215.7 449.1C1216.6 449.5 1220.4 451.6 1222.6 451.7C1224.8 451.9 1230.9 450.6 1232.2 450.4" fill="none" stroke="#000" stroke-width="2.61"/>
<path d="M1238.7 440.4L1247.8 449.1" fill="none" stroke="#000" stroke-width="2.61"/>
<path d="M1241.7 445.2L1247.8 449.1L1242.6 450.0Z" fill="#000" stroke="#000" stroke-width="0.70"/>
<path d="M1240.0 431.3L1240.9 438.3L1253.0 444.3L1261.7 435.2" fill="none" stroke="#000" stroke-width="2.61"/>
<path d="M1240.9 432.2L1254.8 438.7" fill="none" stroke="#000" stroke-width="1.13"/>
<path d="M1257.4 440.0L1257.4 453.9L1252.2 460.9L1241.7 465.2" fill="none" stroke="#000" stroke-width="2.17"/>
<path d="M1260.0 437.4L1260.0 454.8" fill="none" stroke="#000" stroke-width="1.74"/>
<path d="M1241.3 450.4L1241.7 473.9" fill="none" stroke="#000" stroke-width="2.61"/>
<path d="M1237.4 457.4L1237.4 472.2" fill="none" stroke="#000" stroke-width="2.61"/>
<path d="M1226.1 457.4L1226.1 480.0" fill="none" stroke="#000" stroke-width="2.61"/>
<path d="M1228.7 463.5L1228.7 479.1" fill="none" stroke="#000" stroke-width="2.61"/>
<path d="M1222.6 461.7L1222.6 472.2" fill="none" stroke="#000" stroke-width="2.17"/>
<path d="M1234.8 462.6L1234.8 471.3" fill="none" stroke="#000" stroke-width="1.74"/>
<path d="M1228.7 463.5L1235.7 461.7" fill="none" stroke="#000" stroke-width="1.74"/>
<path d="M1228.7 475.7L1238.3 471.3" fill="none" stroke="#000" stroke-width="1.74"/>
<path d="M1240.9 468.7L1250.4 463.5L1250.4 460.9" fill="none" stroke="#000" stroke-width="2.17"/>
<path d="M1240.9 462.6L1251.3 460.9" fill="none" stroke="#000" stroke-width="1.74"/>
<path d="M1198.3 492.2L1212.2 487.8L1226.1 480.0L1240.0 473.0" fill="none" stroke="#000" stroke-width="2.17"/>
<path d="M1240.0 454.8L1244.3 456.5L1244.3 460.9L1240.0 460.0Z" fill="#000" stroke="#000" stroke-width="0.70"/>
<path d="M1079.6 561.4L1079.6 542.7L1083.1 539.7L1089.6 540.5L1094.4 529.7L1099.6 524.4L1107.4 520.5L1116.1 524.9L1117.9 514.9L1130.0 507.5L1139.6 511.0L1141.3 501.4L1147.4 497.5L1161.3 505.3L1161.3 534.4L1151.8 541.4L1147.4 541.8L1130.9 554.0L1116.1 560.1L1112.7 563.6L1094.4 568.8L1091.8 567.9Z" fill="#fff" stroke="#000" stroke-width="2.17"/>
<path d="M1083.1 540.1L1102.2 549.7L1101.3 551.4" fill="none" stroke="#000" stroke-width="2.61"/>
<path d="M1082.2 544.0L1092.7 549.7L1092.7 567.9" fill="none" stroke="#000" stroke-width="1.13"/>
<path d="M1092.7 549.7C1093.0 549.4 1094.4 548.0 1095.3 547.9C1096.1 547.8 1098.2 548.1 1098.7 548.8C1099.3 549.5 1099.8 552.1 1099.6 553.1C1099.4 554.2 1097.6 555.8 1097.4 556.6C1097.3 557.4 1098.1 559.0 1098.7 559.2C1099.4 559.4 1101.8 558.5 1102.2 558.3" fill="none" stroke="#000" stroke-width="2.17"/>
<path d="M1102.2 558.3C1102.5 557.9 1104.1 555.8 1104.4 554.9C1104.7 553.9 1104.4 551.9 1104.4 551.4" fill="none" stroke="#000" stroke-width="1.13"/>
<path d="M1090.0 541.0L1102.2 547.0L1109.2 534.9L1118.7 530.1" fill="none" stroke="#000" stroke-width="1.13"/>
<path d="M1097.9 528.8L1109.2 534.9" fill="none" stroke="#000" stroke-width="1.13"/>
<path d="M1116.1 524.9L1130.9 533.6" fill="none" stroke="#000" stroke-width="2.61"/>
<path d="M1121.3 528.8C1121.6 529.1 1122.7 530.2 1123.1 531.4C1123.4 532.6 1124.3 536.1 1124.0 537.5C1123.6 538.9 1120.8 540.8 1120.5 541.8C1120.1 542.9 1120.8 544.7 1121.3 545.3C1121.9 545.9 1124.4 546.4 1124.8 546.6" fill="none" stroke="#000" stroke-width="2.44"/>
<path d="M1124.8 546.6C1125.4 546.4 1128.3 546.2 1129.2 545.3C1130.0 544.4 1131.1 541.7 1131.3 540.1C1131.6 538.5 1131.0 534.4 1130.9 533.6" fill="none" stroke="#000" stroke-width="1.13"/>
<path d="M1121.3 516.2L1131.3 522.3L1142.7 515.7" fill="none" stroke="#000" stroke-width="1.13"/>
<path d="M1131.3 522.3L1129.2 532.3" fill="none" stroke="#000" stroke-width="1.13"/>
<path d="M1139.6 511.0C1140.5 511.7 1145.5 515.3 1146.6 516.6C1147.6 517.9 1147.8 519.8 1147.4 521.0C1147.1 522.1 1144.4 523.7 1144.0 525.3C1143.5 526.9 1143.4 531.8 1144.0 533.1C1144.5 534.5 1147.7 535.0 1148.3 535.3" fill="none" stroke="#000" stroke-width="2.44"/>
<path d="M1148.3 535.3C1149.0 535.0 1152.3 534.3 1153.5 533.1C1154.7 531.9 1156.9 528.0 1157.4 526.2C1158.0 524.3 1158.2 520.4 1157.9 519.2C1157.6 518.0 1155.6 517.3 1155.3 517.0" fill="none" stroke="#000" stroke-width="1.13"/>
<path d="M1144.0 503.1L1155.3 507.9L1158.3 505.7" fill="none" stroke="#000" stroke-width="1.13"/>
<path d="M1155.3 507.9L1154.4 515.7" fill="none" stroke="#000" stroke-width="1.13"/>
<path d="M1141.3 508.8L1152.7 516.6L1156.1 517.5" fill="none" stroke="#000" stroke-width="2.61"/>
<path d="M1194.8 513.1L1203.5 508.3L1210.4 508.3L1214.8 505.3L1217.4 506.2L1231.3 515.7L1234.8 512.7L1253.5 502.7L1255.7 503.6L1255.2 511.4L1256.5 516.6L1256.1 528.8L1254.8 537.5L1252.2 538.3L1238.3 528.8L1236.5 526.6L1238.3 522.7L1240.0 520.1" fill="none" stroke="#000" stroke-width="2.17"/>
<path d="M1234.8 512.7C1235.8 512.6 1241.3 511.5 1242.6 511.8C1243.9 512.1 1244.6 513.9 1244.3 514.9C1244.1 515.9 1242.0 518.8 1240.9 519.2C1239.7 519.7 1236.8 518.8 1235.7 518.3C1234.5 517.9 1232.6 516.1 1232.2 515.7" fill="none" stroke="#000" stroke-width="2.17"/>
<ellipse cx="1248.3" cy="524.4" rx="3.0" ry="4.3" transform="rotate(30 1248.3 524.4)" fill="none" stroke="#000" stroke-width="2.96"/>
<path d="M1198.3 520.1L1187.0 524.4L1191.7 537.5L1201.7 533.1" fill="none" stroke="#000" stroke-width="2.17"/>
<path d="M1197.4 514.9L1198.3 521.0L1203.5 534.0" fill="none" stroke="#000" stroke-width="2.61"/>
<path d="M1194.8 513.1L1196.5 516.6L1210.4 511.4L1209.6 508.8" fill="none" stroke="#000" stroke-width="2.17"/>
<path d="M1197.4 517.0L1206.1 514.9L1210.4 515.7" fill="none" stroke="#000" stroke-width="2.61"/>
<path d="M1206.1 510.5L1208.7 514.0" fill="none" stroke="#000" stroke-width="2.61"/>
<path d="M1215.7 526.2L1212.2 528.8L1204.3 534.9L1208.7 544.4L1212.2 547.9L1215.7 548.8" fill="none" stroke="#000" stroke-width="2.17"/>
<path d="M1210.4 532.3L1209.6 539.2" fill="none" stroke="#000" stroke-width="1.74"/>
<path d="M1215.7 526.2L1229.6 534.9L1227.8 537.5L1213.9 534.0L1211.3 530.5Z" fill="none" stroke="#000" stroke-width="2.61"/>
<path d="M1217.4 529.2L1227.0 534.4" fill="none" stroke="#000" stroke-width="4.35"/>
<path d="M1216.5 529.7L1218.3 528.8L1218.3 532.3L1216.5 532.3Z" fill="#fff" stroke="none"/>
<path d="M1229.6 534.9L1240.0 534.9L1240.9 539.2L1243.5 541.0L1243.5 546.2L1238.3 547.9" fill="none" stroke="#000" stroke-width="2.17"/>
<path d="M1228.7 539.2L1234.8 537.5L1236.5 539.2L1236.5 547.9" fill="none" stroke="#000" stroke-width="2.61"/>
<path d="M1216.5 543.1L1222.6 540.1L1227.0 542.7L1227.0 545.3L1216.5 545.3Z" fill="#000" stroke="#000" stroke-width="0.70"/>
<path d="M1216.1 543.6L1225.2 544.4L1225.2 557.5L1214.8 558.3L1216.1 543.6" fill="none" stroke="#000" stroke-width="2.61"/>
<path d="M1227.0 546.2L1229.6 546.2L1229.6 558.8L1227.0 558.8Z" fill="#000" stroke="#000" stroke-width="0.70"/>
<path d="M1230.4 546.2L1233.9 546.2L1233.9 550.5L1230.4 551.4Z" fill="#000" stroke="#000" stroke-width="0.70"/>
<path d="M1238.3 541.0L1240.9 540.1L1240.9 546.2L1238.3 547.0Z" fill="#000" stroke="#000" stroke-width="0.70"/>
<path d="M1229.6 553.1L1229.6 566.2L1232.2 567.0L1240.9 561.0L1243.5 561.0L1243.5 563.6L1247.0 562.7L1250.4 561.0L1258.3 561.8L1261.3 560.1L1261.3 547.0L1254.8 538.3" fill="none" stroke="#000" stroke-width="2.17"/>
<path d="M1229.6 553.1L1243.5 546.2L1249.6 539.2" fill="none" stroke="#000" stroke-width="1.74"/>
<path d="M1231.5 554.0L1231.5 566.2" fill="none" stroke="#000" stroke-width="1.30"/>
<path d="M1249.6 540.1L1249.6 561.0" fill="none" stroke="#000" stroke-width="1.13"/>
<path d="M1251.3 540.1L1251.3 561.0" fill="none" stroke="#000" stroke-width="1.13"/>
<path d="M1238.3 561.8L1241.7 560.1L1243.5 561.0L1243.5 563.6Z" fill="#000" stroke="#000" stroke-width="0.70"/>
<path d="M1085.7 632.3L1085.7 599.3L1090.0 596.7L1104.0 604.5L1104.4 609.7L1103.5 641.0L1101.3 641.0L1091.8 637.6L1091.3 635.0Z" fill="none" stroke="#000" stroke-width="2.17"/>
<path d="M1092.2 637.6L1092.2 608.9L1090.9 608.0L1092.2 605.4L1094.8 603.7" fill="none" stroke="#000" stroke-width="2.78"/>
<path d="M1095.9 605.0L1095.9 637.6" fill="none" stroke="#000" stroke-width="2.78"/>
<path d="M1104.0 608.0L1104.0 641.0" fill="none" stroke="#000" stroke-width="3.92"/>
<path d="M1102.2 601.9L1105.3 588.9L1109.2 585.8L1121.3 589.3L1125.7 595.8L1125.7 613.2" fill="none" stroke="#000" stroke-width="2.61"/>
<path d="M1109.2 586.7L1124.0 596.7L1119.6 608.9" fill="none" stroke="#000" stroke-width="2.17"/>
<path d="M1102.2 601.9L1121.3 612.3" fill="none" stroke="#000" stroke-width="3.92"/>
<path d="M1112.7 590.2L1120.5 590.2" fill="none" stroke="#000" stroke-width="1.74"/>
<path d="M1125.7 595.8L1138.7 587.6L1156.1 597.1L1158.3 598.0L1158.3 606.3L1164.0 609.7L1161.3 611.5L1152.7 613.2L1140.5 621.9L1132.7 628.9L1128.3 628.9" fill="none" stroke="#000" stroke-width="2.17"/>
<path d="M1158.3 606.3L1164.0 609.7L1161.3 611.5L1158.3 609.7Z" fill="#000" stroke="#000" stroke-width="0.70"/>
<path d="M1127.4 595.8L1127.4 613.2L1131.8 613.2L1156.1 600.2" fill="none" stroke="#000" stroke-width="2.17"/>
<path d="M1156.1 598.0L1156.1 606.3L1149.2 608.9" fill="none" stroke="#000" stroke-width="2.17"/>
<path d="M1149.2 606.3L1150.9 609.7" fill="none" stroke="#000" stroke-width="2.17"/>
<path d="M1105.7 609.7L1109.2 608.0L1112.7 613.2L1112.7 616.3L1108.3 615.8L1106.6 613.2Z" fill="none" stroke="#000" stroke-width="2.78"/>
<path d="M1105.7 616.7L1108.3 621.0L1108.3 626.3L1110.9 628.9L1115.3 628.9L1120.5 622.8L1122.2 619.3L1122.2 613.2" fill="none" stroke="#000" stroke-width="2.17"/>
<path d="M1104.4 640.2L1109.2 635.8L1126.6 628.0L1129.2 623.7L1137.9 616.7" fill="none" stroke="#000" stroke-width="2.61"/>
<path d="M1105.7 630.6L1117.0 629.7L1126.6 618.4L1135.3 613.2" fill="none" stroke="#000" stroke-width="2.17"/>
<path d="M1128.3 623.7L1128.3 628.9L1131.8 628.9L1137.9 621.9L1137.0 620.2" fill="none" stroke="#000" stroke-width="2.17"/>
<path d="M1137.9 615.0L1142.2 615.0L1142.2 621.9L1138.7 623.7Z" fill="#000" stroke="#000" stroke-width="0.70"/>
<path d="M1137.9 613.2L1149.2 606.3" fill="none" stroke="#000" stroke-width="2.17"/>
<path d="M1142.2 620.2L1152.7 613.2" fill="none" stroke="#000" stroke-width="2.17"/>
<path d="M1191.7 616.7L1191.7 609.7L1193.9 601.5L1200.0 597.6L1206.1 600.2L1210.0 589.3L1222.6 580.6L1228.7 584.5L1230.9 576.3L1239.1 571.5L1253.5 578.9L1255.2 586.3L1255.2 595.8L1250.4 605.4L1254.3 610.6L1254.3 612.3L1249.6 612.3L1240.9 616.7L1229.6 623.7L1229.6 628.0L1226.1 629.7L1220.9 629.7L1212.2 631.5L1206.1 640.2L1191.7 632.3L1196.5 626.3L1196.1 622.8L1193.0 620.2Z" fill="#fff" stroke="#000" stroke-width="2.17"/>
<path d="M1232.2 594.1L1238.3 592.3L1247.0 595.8L1247.8 604.5L1242.6 609.7L1234.8 611.5L1231.3 606.3Z" fill="#000" stroke="#000" stroke-width="0.70"/>
<path d="M1238.3 594.5L1243.5 597.1L1238.7 600.2Z" fill="#fff" stroke="none"/>
<path d="M1236.5 602.8L1243.5 605.4L1241.7 607.1L1235.7 605.0Z" fill="#fff" stroke="none"/>
<path d="M1234.8 608.0L1240.0 608.9L1238.3 610.2L1234.8 609.7Z" fill="#fff" stroke="none"/>
<path d="M1200.0 598.0L1213.0 606.3L1208.7 609.7L1207.0 620.2L1207.4 624.5L1209.6 627.1" fill="none" stroke="#000" stroke-width="2.17"/>
<path d="M1196.5 624.5L1211.3 630.6" fill="none" stroke="#000" stroke-width="2.17"/>
<path d="M1207.8 600.2L1220.9 609.7" fill="none" stroke="#000" stroke-width="2.17"/>
<path d="M1228.7 584.5L1233.9 588.9L1233.0 593.2L1225.2 596.7L1224.8 614.1" fill="none" stroke="#000" stroke-width="2.17"/>
<path d="M1226.1 598.4L1231.3 596.7L1231.3 605.4L1226.1 605.4Z" fill="none" stroke="#000" stroke-width="2.17"/>
<path d="M1233.9 588.9L1243.5 591.5L1245.2 585.4L1252.2 581.0" fill="none" stroke="#000" stroke-width="2.61"/>
<path d="M1247.0 585.4L1247.0 594.1L1249.6 602.8" fill="none" stroke="#000" stroke-width="2.17"/>
<path d="M1250.4 584.5L1251.3 602.8" fill="none" stroke="#000" stroke-width="1.74"/>
<path d="M1253.5 580.2L1254.3 596.7" fill="none" stroke="#000" stroke-width="1.74"/>
<path d="M1212.2 608.9L1212.2 621.9" fill="none" stroke="#000" stroke-width="2.61"/>
<path d="M1208.7 610.6L1208.7 620.2" fill="none" stroke="#000" stroke-width="2.17"/>
<path d="M1213.0 608.9L1219.1 614.1L1222.6 616.7L1220.0 621.9" fill="none" stroke="#000" stroke-width="2.17"/>
<path d="M1220.9 603.7L1222.6 602.8L1224.3 604.5L1224.3 616.7L1220.9 621.9L1220.0 627.1" fill="none" stroke="#000" stroke-width="2.61"/>
<path d="M1207.4 621.0L1219.1 621.9L1219.1 628.9" fill="none" stroke="#000" stroke-width="2.61"/>
<path d="M1212.2 625.0L1218.3 625.0" fill="none" stroke="#000" stroke-width="2.61"/>
<path d="M1220.0 628.0L1229.6 623.7L1229.6 628.0L1226.1 630.2L1220.9 630.2Z" fill="#000" stroke="#000" stroke-width="0.70"/>
<path d="M1212.2 620.0L1219.1 620.0L1219.1 622.8L1212.2 622.8Z" fill="#000" stroke="#000" stroke-width="0.70"/>
<path d="M1240.9 616.3L1249.6 607.1" fill="none" stroke="#000" stroke-width="1.74"/>
<path d="M1242.2 613.2L1249.6 606.3" fill="none" stroke="#000" stroke-width="1.74"/>
<path d="M1227.8 608.9L1233.9 612.3L1240.0 613.2" fill="none" stroke="#000" stroke-width="2.61"/>
<path d="M1249.6 609.7L1254.3 610.6L1254.3 612.3L1249.6 612.3Z" fill="#000" stroke="#000" stroke-width="0.70"/>
<path d="M1074.4 696.3L1078.7 693.3L1084.8 692.4L1093.5 686.3L1105.7 679.4L1107.4 676.8L1111.8 673.7L1117.0 673.7L1117.9 672.0L1128.3 666.8L1132.7 663.3L1140.5 659.8L1156.1 645.9L1160.5 645.9L1160.5 651.6L1146.6 663.7L1138.7 667.2L1133.5 667.7L1132.7 670.7L1123.1 676.8" fill="none" stroke="#000" stroke-width="2.17"/>
<path d="M1074.4 696.3L1075.3 700.3L1081.3 704.2L1086.6 703.3L1086.6 697.7L1091.8 694.2L1096.1 692.9L1105.7 687.2L1110.0 683.7L1112.7 682.9" fill="none" stroke="#000" stroke-width="2.17"/>
<path d="M1085.7 690.7L1091.8 694.2" fill="none" stroke="#000" stroke-width="3.04"/>
<path d="M1130.9 664.6L1133.5 670.7" fill="none" stroke="#000" stroke-width="3.04"/>
<path d="M1140.5 659.8L1144.8 661.1" fill="none" stroke="#000" stroke-width="1.30"/>
<path d="M1077.0 697.7L1081.3 699.4L1081.8 702.9" fill="none" stroke="#000" stroke-width="1.30"/>
<path d="M1106.6 676.8L1110.9 680.3L1112.7 682.9L1114.4 685.5L1117.9 682.9L1120.5 681.1L1120.5 677.7L1117.0 674.2" fill="none" stroke="#000" stroke-width="2.78"/>
<ellipse cx="1114.0" cy="678.1" rx="3.3" ry="2.4" transform="rotate(0 1114.0 678.1)" fill="none" stroke="#000" stroke-width="1.74"/>
<path d="M1111.8 679.4L1117.0 679.4L1117.0 682.9L1114.4 685.0L1112.2 682.0Z" fill="#000" stroke="#000" stroke-width="0.70"/>
<path d="M1104.0 689.4C1104.4 689.5 1104.9 690.1 1107.4 690.3C1110.0 690.4 1120.3 691.1 1123.1 690.7C1125.9 690.3 1127.6 688.4 1128.3 687.2C1129.0 686.1 1128.7 683.2 1128.3 682.0C1128.0 680.8 1126.6 679.2 1125.7 678.5C1124.8 677.9 1121.9 677.4 1121.3 677.2" fill="none" stroke="#000" stroke-width="2.17"/>
<path d="M1104.0 689.4L1109.2 685.5L1112.7 683.7" fill="none" stroke="#000" stroke-width="2.17"/>
<path d="M1106.6 690.7L1106.6 707.2L1109.2 709.0L1110.9 711.6L1114.4 713.3L1117.9 712.4L1119.6 709.8L1122.2 707.2L1122.2 691.1" fill="none" stroke="#000" stroke-width="2.78"/>
<path d="M1105.7 691.1L1123.1 691.1" fill="none" stroke="#000" stroke-width="2.61"/>
<path d="M1108.3 694.2L1110.9 696.1L1117.9 695.2L1121.2 693.1" fill="none" stroke="#000" stroke-width="1.30"/>
<path d="M1109.2 695.2L1113.5 693.7L1119.6 694.3" fill="none" stroke="#000" stroke-width="1.04"/>
<path d="M1108.3 697.7L1110.9 699.6L1117.9 698.7L1121.2 696.6" fill="none" stroke="#000" stroke-width="1.30"/>
<path d="M1109.2 698.7L1113.5 697.2L1119.6 697.8" fill="none" stroke="#000" stroke-width="1.04"/>
<path d="M1108.3 701.1L1110.9 703.0L1117.9 702.2L1121.2 700.1" fill="none" stroke="#000" stroke-width="1.30"/>
<path d="M1109.2 702.2L1113.5 700.7L1119.6 701.3" fill="none" stroke="#000" stroke-width="1.04"/>
<path d="M1108.3 704.6L1110.9 706.5L1117.9 705.7L1121.2 703.6" fill="none" stroke="#000" stroke-width="1.30"/>
<path d="M1109.2 705.7L1113.5 704.2L1119.6 704.8" fill="none" stroke="#000" stroke-width="1.04"/>
<path d="M1108.3 708.1L1110.9 710.0L1117.9 709.1L1121.2 707.0" fill="none" stroke="#000" stroke-width="1.30"/>
<path d="M1109.2 709.1L1113.5 707.7L1119.6 708.3" fill="none" stroke="#000" stroke-width="1.04"/>
<path d="M1174.3 698.5L1174.8 691.1L1180.4 690.3L1181.7 683.7L1187.8 680.3L1191.3 682.4L1197.4 681.1L1197.4 674.6L1206.5 669.4L1213.0 675.0L1213.9 664.6L1229.6 655.0L1238.3 652.0L1241.7 653.7L1241.7 649.8L1247.0 645.5L1261.3 652.9L1262.2 662.0L1261.3 670.7L1258.3 676.8L1250.4 682.0L1250.4 689.0L1247.0 693.3L1238.3 695.9L1238.3 698.5L1234.8 700.3L1226.1 700.3L1223.5 697.7L1215.7 701.1L1196.5 711.6L1194.8 713.3L1190.4 713.3L1178.3 706.3Z" fill="#fff" stroke="#000" stroke-width="2.17"/>
<path d="M1197.4 682.9L1210.4 688.1L1215.7 680.3L1215.7 697.7L1207.0 702.9L1198.3 701.1L1197.4 694.2Z" fill="#000" stroke="#000" stroke-width="0.70"/>
<path d="M1200.9 687.2L1204.3 689.0L1203.5 697.7L1200.9 695.9Z" fill="#fff" stroke="none"/>
<path d="M1207.0 698.5L1213.9 695.9L1213.9 699.4L1207.0 702.0Z" fill="#fff" stroke="none"/>
<path d="M1211.3 690.7L1213.0 690.3L1213.0 692.4L1211.3 692.9Z" fill="#fff" stroke="none"/>
<path d="M1255.7 655.9L1261.3 653.3L1262.2 662.9L1258.3 670.7L1252.2 676.8L1248.7 675.9L1248.7 663.7L1253.9 663.7Z" fill="#000" stroke="#000" stroke-width="0.70"/>
<path d="M1250.4 666.3L1253.9 668.1L1251.3 671.6Z" fill="#fff" stroke="none"/>
<path d="M1256.5 659.4L1258.3 658.5L1257.4 667.2L1255.7 668.1Z" fill="#fff" stroke="none"/>
<path d="M1250.4 673.3L1254.8 671.6L1252.2 675.9Z" fill="#fff" stroke="none"/>
<path d="M1181.7 684.2L1196.5 691.1L1193.0 697.7L1182.6 696.8L1182.6 702.9L1188.7 709.8" fill="none" stroke="#000" stroke-width="2.17"/>
<path d="M1180.9 690.7L1194.8 697.7" fill="none" stroke="#000" stroke-width="2.61"/>
<path d="M1184.3 685.5L1196.5 690.7" fill="none" stroke="#000" stroke-width="1.13"/>
<path d="M1187.8 698.5L1187.8 709.0" fill="none" stroke="#000" stroke-width="2.17"/>
<path d="M1195.7 702.9L1195.7 712.4" fill="none" stroke="#000" stroke-width="2.17"/>
<path d="M1190.4 706.3L1194.8 711.6" fill="none" stroke="#000" stroke-width="2.17"/>
<path d="M1176.1 692.4L1177.4 702.0" fill="none" stroke="#000" stroke-width="1.74"/>
<path d="M1198.3 675.0L1199.1 682.0L1210.4 687.2L1211.3 681.1L1215.7 678.5" fill="none" stroke="#000" stroke-width="2.17"/>
<path d="M1200.9 675.9L1211.3 681.1" fill="none" stroke="#000" stroke-width="1.13"/>
<path d="M1213.9 665.5L1215.7 671.6L1226.1 675.9L1231.3 670.7L1234.8 667.2" fill="none" stroke="#000" stroke-width="2.17"/>
<path d="M1217.4 665.5L1228.7 670.7" fill="none" stroke="#000" stroke-width="1.13"/>
<path d="M1216.5 676.8L1220.9 676.8L1220.9 680.3L1216.5 680.3Z" fill="#000" stroke="#000" stroke-width="0.70"/>
<path d="M1226.1 661.1C1226.4 660.6 1227.3 658.9 1228.7 658.5C1230.1 658.1 1235.0 657.8 1236.5 658.1C1238.0 658.4 1239.8 659.8 1240.0 660.7C1240.2 661.6 1239.7 664.0 1238.3 664.6C1236.9 665.2 1231.2 665.3 1229.6 665.0C1227.9 664.8 1226.6 663.4 1226.1 662.9C1225.6 662.3 1225.7 661.7 1226.1 661.1Z" fill="none" stroke="#000" stroke-width="2.17"/>
<path d="M1228.7 663.7L1237.4 663.3" fill="none" stroke="#000" stroke-width="3.48"/>
<path d="M1227.8 674.2L1228.7 683.7L1222.6 689.0L1219.1 688.1L1217.4 680.3" fill="none" stroke="#000" stroke-width="2.17"/>
<path d="M1231.3 671.6L1232.2 679.4L1229.6 684.6" fill="none" stroke="#000" stroke-width="1.74"/>
<path d="M1234.8 667.2L1234.8 680.3L1236.5 682.0L1236.5 685.5L1233.9 689.0L1231.3 687.2" fill="none" stroke="#000" stroke-width="2.78"/>
<path d="M1238.3 667.2L1244.3 664.6L1247.0 665.5L1247.0 681.1" fill="none" stroke="#000" stroke-width="2.78"/>
<path d="M1239.1 668.1L1239.6 679.4" fill="none" stroke="#000" stroke-width="1.30"/>
<path d="M1241.7 653.7L1242.6 656.8L1253.9 662.9L1255.7 656.8L1258.3 654.2" fill="none" stroke="#000" stroke-width="2.61"/>
<path d="M1247.0 650.3L1255.7 655.0" fill="none" stroke="#000" stroke-width="1.13"/>
<path d="M1224.3 690.7L1226.1 694.2L1236.5 694.6L1245.2 691.6L1249.6 689.0" fill="none" stroke="#000" stroke-width="2.17"/>
<path d="M1224.3 690.7L1229.6 688.1L1233.9 689.4" fill="none" stroke="#000" stroke-width="2.17"/>
<path d="M1224.3 696.8L1238.3 696.3" fill="none" stroke="#000" stroke-width="2.17"/>
<path d="M1196.5 706.3L1215.7 697.7L1222.6 693.3" fill="none" stroke="#000" stroke-width="2.17"/>
<path d="M1215.7 694.2L1221.7 692.4" fill="none" stroke="#000" stroke-width="2.17"/>
<path d="M1104.4 755.1L1104.4 730.8L1108.3 728.6L1117.9 733.4L1119.6 736.9L1119.6 763.0" fill="none" stroke="#000" stroke-width="2.17"/>
<path d="M1107.4 736.0L1110.9 733.8L1119.6 737.7" fill="none" stroke="#000" stroke-width="2.17"/>
<path d="M1107.4 736.9L1107.4 760.3" fill="none" stroke="#000" stroke-width="2.17"/>
<path d="M1110.0 736.0L1110.0 761.2" fill="none" stroke="#000" stroke-width="1.30"/>
<path d="M1112.7 736.9L1112.7 761.2" fill="none" stroke="#000" stroke-width="1.30"/>
<path d="M1117.9 733.4L1117.9 723.8L1123.1 719.9L1137.9 727.3L1138.7 731.7L1147.4 736.9L1154.4 742.1L1158.3 749.0L1159.6 754.3L1159.6 776.0L1157.0 779.5L1153.5 780.3L1153.5 789.9L1148.3 789.9L1144.0 786.4L1135.3 781.2L1129.2 778.6L1122.2 774.3L1117.9 769.0L1117.0 767.3" fill="none" stroke="#000" stroke-width="2.61"/>
<path d="M1123.1 722.1L1134.4 728.2L1132.7 739.5L1118.7 732.5" fill="none" stroke="#000" stroke-width="2.17"/>
<path d="M1124.0 723.8L1133.5 729.0" fill="none" stroke="#000" stroke-width="1.13"/>
<path d="M1136.1 728.2L1136.1 741.2" fill="none" stroke="#000" stroke-width="2.78"/>
<path d="M1137.0 733.4L1144.0 736.0L1147.4 737.7" fill="none" stroke="#000" stroke-width="2.17"/>
<path d="M1121.3 737.7L1126.6 741.2L1126.6 743.8L1122.2 744.7L1121.3 742.1Z" fill="#000" stroke="#000" stroke-width="0.70"/>
<path d="M1120.5 744.7C1120.8 745.6 1122.3 750.4 1123.1 751.7C1123.9 752.9 1125.5 754.4 1126.6 754.3C1127.6 754.1 1130.0 751.9 1130.9 750.8C1131.8 749.6 1133.2 746.8 1133.5 745.6C1133.9 744.3 1133.5 741.8 1133.5 741.2" fill="none" stroke="#000" stroke-width="2.17"/>
<path d="M1120.0 749.0L1125.7 755.1L1120.0 756.9Z" fill="#000" stroke="#000" stroke-width="0.70"/>
<path d="M1104.4 755.1L1093.5 765.6L1095.3 769.0L1101.3 772.1L1110.0 772.1L1119.6 763.4" fill="none" stroke="#000" stroke-width="2.61"/>
<path d="M1103.1 758.6L1116.1 765.6" fill="none" stroke="#000" stroke-width="1.13"/>
<path d="M1119.6 763.0L1134.4 754.3L1142.2 757.7L1144.0 761.2L1144.0 769.9L1150.9 776.9L1153.5 780.3" fill="none" stroke="#000" stroke-width="2.61"/>
<path d="M1119.6 766.4L1133.5 758.6L1140.5 758.6" fill="none" stroke="#000" stroke-width="2.61"/>
<path d="M1138.7 742.1L1133.5 752.5" fill="none" stroke="#000" stroke-width="1.74"/>
<path d="M1147.4 741.2L1150.9 745.6L1151.8 759.5L1144.8 763.0" fill="none" stroke="#000" stroke-width="1.13"/>
<path d="M1144.8 762.1L1145.7 769.9" fill="none" stroke="#000" stroke-width="2.17"/>
<path d="M1146.6 769.9L1157.9 764.7" fill="none" stroke="#000" stroke-width="2.61"/>
<path d="M1149.2 773.4L1158.7 769.0" fill="none" stroke="#000" stroke-width="2.17"/>
<path d="M1150.9 776.9L1157.9 773.4" fill="none" stroke="#000" stroke-width="2.17"/>
<path d="M1147.4 771.7L1150.9 769.9L1152.7 776.9L1150.0 776.0Z" fill="#000" stroke="#000" stroke-width="0.70"/>
<ellipse cx="1137.0" cy="774.3" rx="3.3" ry="5.9" transform="rotate(-20 1137.0 774.3)" fill="none" stroke="#000" stroke-width="2.61"/>
<path d="M1137.0 769.9L1140.0 772.5L1140.5 778.6L1137.9 776.9Z" fill="#000" stroke="#000" stroke-width="0.70"/>
<path d="M1181.3 776.0L1181.3 764.7L1183.5 761.2L1188.7 759.0L1193.0 761.2L1198.3 760.3L1198.3 753.4L1208.7 748.6L1215.7 752.1L1214.3 744.7L1224.3 741.2L1240.0 730.8L1242.6 731.7L1243.5 728.2L1248.7 724.3L1262.6 732.1L1263.5 737.7L1263.5 744.7L1260.0 750.8L1252.2 757.7L1238.3 766.4L1226.1 772.5L1215.7 779.5L1208.7 783.0L1198.3 785.1L1194.8 784.7L1182.6 777.7Z" fill="#fff" stroke="#000" stroke-width="2.17"/>
<path d="M1246.1 739.5L1252.2 738.6L1259.1 737.7L1261.7 741.2L1258.3 749.0L1252.2 750.8L1247.0 750.8Z" fill="#000" stroke="#000" stroke-width="0.70"/>
<path d="M1250.4 742.1L1253.9 741.2L1254.8 744.7L1251.3 745.6Z" fill="#fff" stroke="none"/>
<path d="M1255.7 740.3L1259.1 742.1L1257.4 746.4Z" fill="#fff" stroke="none"/>
<path d="M1248.7 746.4L1252.2 747.3L1250.4 749.9Z" fill="#fff" stroke="none"/>
<path d="M1198.3 761.2L1212.2 768.2L1215.7 764.7L1216.5 772.5L1208.7 777.7L1198.3 779.5L1197.4 772.5Z" fill="#000" stroke="#000" stroke-width="0.70"/>
<path d="M1200.9 769.9L1205.2 768.2L1204.3 772.5Z" fill="#fff" stroke="none"/>
<path d="M1208.7 769.9L1213.9 768.2L1213.0 772.5L1209.6 774.3Z" fill="#fff" stroke="none"/>
<path d="M1200.0 775.1L1203.5 775.1L1201.7 778.6Z" fill="#fff" stroke="none"/>
<path d="M1198.3 764.7L1201.7 765.6L1200.9 768.2L1198.3 768.2Z" fill="#fff" stroke="none"/>
<path d="M1188.7 759.5L1200.9 767.3L1195.7 771.7L1195.2 783.8" fill="none" stroke="#000" stroke-width="2.17"/>
<path d="M1198.7 754.3L1199.1 759.5L1210.4 765.6L1219.1 757.7L1220.9 756.9" fill="none" stroke="#000" stroke-width="2.17"/>
<path d="M1208.7 749.0L1220.9 756.4" fill="none" stroke="#000" stroke-width="2.17"/>
<path d="M1219.1 755.1L1221.7 755.1L1221.7 758.6L1219.1 758.6Z" fill="#000" stroke="#000" stroke-width="0.70"/>
<path d="M1215.7 746.0L1217.4 750.8L1226.1 754.3L1233.9 749.9" fill="none" stroke="#000" stroke-width="2.17"/>
<path d="M1217.4 752.5L1219.1 757.7L1220.0 765.6L1222.6 767.3L1228.7 764.7" fill="none" stroke="#000" stroke-width="2.17"/>
<path d="M1229.6 750.8L1229.6 764.7" fill="none" stroke="#000" stroke-width="2.17"/>
<path d="M1227.0 741.2C1227.3 740.5 1228.3 739.0 1229.6 738.6C1230.8 738.2 1235.1 737.9 1236.5 738.2C1237.9 738.4 1239.5 739.6 1240.0 740.3C1240.5 741.1 1240.5 743.1 1240.0 743.8C1239.5 744.6 1237.9 745.7 1236.5 746.0C1235.1 746.3 1230.8 746.3 1229.6 746.0C1228.3 745.7 1227.3 744.5 1227.0 743.8C1226.6 743.2 1226.6 741.9 1227.0 741.2Z" fill="none" stroke="#000" stroke-width="2.17"/>
<path d="M1229.6 742.1L1236.5 743.8" fill="none" stroke="#000" stroke-width="3.48"/>
<path d="M1228.7 744.9L1236.5 746.2" fill="none" stroke="#000" stroke-width="2.61"/>
<path d="M1235.7 748.2L1236.1 763.8" fill="none" stroke="#000" stroke-width="2.61"/>
<path d="M1238.3 745.6L1238.3 756.9L1241.7 756.9L1241.7 743.8" fill="none" stroke="#000" stroke-width="1.74"/>
<path d="M1240.9 744.7L1247.0 742.1" fill="none" stroke="#000" stroke-width="1.30"/>
<path d="M1243.5 729.0L1243.5 733.4L1253.9 738.6L1258.3 734.7L1262.6 732.5" fill="none" stroke="#000" stroke-width="2.61"/>
<path d="M1217.4 768.2L1217.4 776.9" fill="none" stroke="#000" stroke-width="1.74"/>
<path d="M1225.2 767.3L1225.2 772.5" fill="none" stroke="#000" stroke-width="2.17"/>
<path d="M1247.8 753.4L1247.8 759.5" fill="none" stroke="#000" stroke-width="2.17"/>
<path d="M1247.8 753.4L1253.0 753.4" fill="none" stroke="#000" stroke-width="1.74"/>
<path d="M1196.5 783.0L1208.7 779.5L1217.4 775.1L1234.8 766.4L1247.0 759.5L1257.4 752.5" fill="none" stroke="#000" stroke-width="1.74"/>
<path d="M1068.7 850.9L1068.7 843.9L1070.9 840.4L1075.3 838.7L1078.7 840.0L1078.7 835.2L1087.4 829.6L1091.8 830.9L1091.8 826.5L1113.5 814.3L1121.3 817.8L1120.5 810.0L1131.8 804.3L1138.7 808.3L1139.6 800.4L1146.6 795.7L1159.6 803.0L1159.6 816.1L1152.7 823.9L1144.0 830.9L1123.1 843.0L1105.7 854.3L1091.8 860.4L1083.1 861.3L1070.0 854.3Z" fill="#000" stroke="#000" stroke-width="2.17"/>
<path d="M1070.0 843.9L1071.3 841.7L1083.1 846.5L1081.3 850.0L1080.9 857.8L1070.0 852.6Z" fill="#fff" stroke="none"/>
<path d="M1080.0 835.7L1087.4 830.9L1095.3 836.1L1091.8 841.3L1090.0 845.7L1080.5 840.0Z" fill="#fff" stroke="none"/>
<path d="M1092.7 828.3L1101.3 823.9L1112.7 830.9L1109.2 832.6L1102.2 836.1L1091.8 830.9Z" fill="#fff" stroke="none"/>
<path d="M1103.1 822.2L1113.5 815.7L1121.3 819.6L1117.9 824.8L1112.7 828.3Z" fill="#fff" stroke="none"/>
<path d="M1121.8 811.3L1131.8 805.7L1140.5 810.9L1135.3 815.2L1131.8 817.8L1122.2 813.5Z" fill="#fff" stroke="none"/>
<path d="M1140.9 800.9L1146.6 797.0L1155.3 803.0L1152.7 805.7L1150.9 810.0L1141.3 804.8Z" fill="#fff" stroke="none"/>
<path d="M1124.0 823.0L1129.2 822.2L1133.5 824.8L1133.5 828.3L1129.2 832.6L1124.8 827.4Z" fill="#fff" stroke="none"/>
<path d="M1112.7 835.2L1117.9 833.5L1118.7 842.2L1113.5 844.8Z" fill="#fff" stroke="none"/>
<path d="M1099.6 842.2L1103.1 840.4L1104.0 844.8L1100.5 846.5Z" fill="#fff" stroke="none"/>
<path d="M1094.4 850.9L1102.2 850.9L1095.3 855.2Z" fill="#fff" stroke="none"/>
<path d="M1122.2 837.8L1126.6 837.8L1123.1 840.4Z" fill="#fff" stroke="none"/>
<path d="M1086.6 850.0L1090.0 850.0L1088.3 854.3Z" fill="#fff" stroke="none"/>
<path d="M1135.3 830.9L1140.5 828.3L1135.3 834.3Z" fill="#fff" stroke="none"/>
<path d="M1152.7 813.5L1155.3 812.6L1155.3 815.2L1152.7 816.1Z" fill="#fff" stroke="none"/>
<path d="M1153.5 807.4L1154.8 807.0L1154.8 808.7L1153.5 809.1Z" fill="#fff" stroke="none"/>
<path d="M1144.0 811.7L1147.4 813.5L1144.8 815.2Z" fill="#fff" stroke="none"/>
<path d="M1141.3 819.6L1144.0 820.4L1141.8 822.2Z" fill="#fff" stroke="none"/>
<path d="M1105.7 835.2L1107.4 834.3L1107.4 837.0L1105.7 837.8Z" fill="#fff" stroke="none"/>
<path d="M1106.6 840.4L1110.0 838.7L1109.2 843.9L1106.6 844.8Z" fill="#fff" stroke="none"/>
<path d="M1084.0 856.1L1085.7 857.0L1084.4 859.6Z" fill="#fff" stroke="none"/>
<ellipse cx="1107.9" cy="843.2" rx="3.3" ry="4.0" transform="rotate(-20 1107.9 843.2)" fill="#fff" stroke="#000" stroke-width="1.74"/>
<ellipse cx="1108.1" cy="843.2" rx="1.6" ry="2.1" transform="rotate(-20 1108.1 843.2)" fill="none" stroke="#000" stroke-width="1.74"/>
<ellipse cx="1087.6" cy="851.3" rx="3.0" ry="3.7" transform="rotate(-20 1087.6 851.3)" fill="#fff" stroke="#000" stroke-width="1.74"/>
<ellipse cx="1087.9" cy="851.3" rx="1.2" ry="1.7" transform="rotate(-20 1087.9 851.3)" fill="none" stroke="#000" stroke-width="1.74"/>
<path d="M1096.1 838.7L1100.5 837.4L1100.5 841.3L1096.6 843.0Z" fill="#fff" stroke="none"/>
<path d="M1114.4 846.5L1119.6 843.9L1119.6 845.7L1114.4 849.1Z" fill="#fff" stroke="none"/>
<path d="M1145.7 816.1L1149.2 817.0L1148.3 821.3L1144.8 820.4Z" fill="#fff" stroke="none"/>
<path d="M1137.9 818.7L1140.5 816.1L1140.9 819.6L1138.7 822.2Z" fill="#fff" stroke="none"/>
<path d="M1150.9 818.7L1153.5 817.8L1151.8 821.3Z" fill="#fff" stroke="none"/>
<path d="M1095.3 857.0L1104.0 853.5L1105.7 854.3L1096.1 858.7Z" fill="#fff" stroke="none"/>
<path d="M1071.3 843.9L1080.0 849.1" fill="none" stroke="#000" stroke-width="1.13"/>
<path d="M1083.1 837.0L1090.9 840.9" fill="none" stroke="#000" stroke-width="1.13"/>
<path d="M1094.4 829.1L1102.2 834.3" fill="none" stroke="#000" stroke-width="1.13"/>
<path d="M1123.1 811.7L1131.8 817.0" fill="none" stroke="#000" stroke-width="1.13"/>
<path d="M1143.1 801.3L1150.9 805.7" fill="none" stroke="#000" stroke-width="1.13"/>
<path d="M1104.0 824.8C1104.1 824.2 1105.4 822.7 1106.6 822.2C1107.7 821.7 1111.3 820.8 1112.7 820.9C1114.0 821.0 1116.5 822.4 1117.0 823.0C1117.5 823.7 1116.9 825.2 1116.1 825.7C1115.3 826.1 1112.3 826.4 1110.9 826.5C1109.5 826.6 1106.6 826.8 1105.7 826.5C1104.8 826.3 1103.8 825.4 1104.0 824.8Z" fill="none" stroke="#000" stroke-width="2.17"/>
<path d="M1170.9 848.0L1170.9 816.6L1172.7 816.0L1184.8 824.4L1187.2 824.4L1231.9 798.5L1233.7 798.5L1261.5 813.6L1214.4 841.3L1224.0 848.0Z" fill="#fff" stroke="#000" stroke-width="1.39"/>
<path d="M1261.5 813.6L1261.5 824.4L1225.8 846.2L1214.4 841.3Z" fill="#000" stroke="#000" stroke-width="0.70"/>
<path d="M1170.3 848.0L1229.8 848.0L1229.8 858.6L1170.3 858.6Z" fill="#000" stroke="#000" stroke-width="0.70"/>
</g>
<g id="tlabels">
<text class="t" transform="translate(1164.2,78) scale(1.09,1)">14</text>
<text class="t" transform="translate(1167.2,155) scale(1.09,1)">13</text>
<text class="t" transform="translate(1167.2,228) scale(1.09,1)">12</text>
<text class="t" transform="translate(1167.2,302) scale(1.09,1)">10</text>
<text class="t" transform="translate(1171.3,376) scale(1.09,1)">8</text>
<text class="t" transform="translate(1171.7,450) scale(1.09,1)">7</text>
<text class="t" transform="translate(1062.5,521) scale(1.09,1)">19</text>
<text class="t" transform="translate(1171.9,524) scale(1.09,1)">6</text>
<text class="t" transform="translate(1062.5,594) scale(1.09,1)">18</text>
<text class="t" transform="translate(1172.1,598) scale(1.09,1)">5</text>
<text class="t" transform="translate(1064.1,669) scale(1.09,1)">17</text>
<text class="t" transform="translate(1172.6,672) scale(1.09,1)">4</text>
<text class="t" transform="translate(1064.1,743) scale(1.09,1)">16</text>
<text class="t" transform="translate(1172.4,746) scale(1.09,1)">3</text>
<text class="t" transform="translate(1063.4,818) scale(1.09,1)">15</text>
</g>
<text transform="translate(1171.7,884.5) scale(1.15,1)" style="font-weight:normal;font-size:17px">00168049</text>
<g id="pipes">
<path class="po" d="M144.2 805.4C146.2 806.3 157.2 811.1 161.2 812.7C165.2 814.3 174.9 818.6 178.3 819.4C181.7 820.2 186.0 820.7 190.7 819.7C195.4 818.7 210.0 813.8 218.7 811.1C227.4 808.4 257.4 799.4 265.3 796.4C273.2 793.4 276.4 791.2 286.7 785.0C297.0 778.8 337.7 752.8 353.3 743.3C368.9 733.8 408.7 708.6 420.0 703.3C431.3 698.0 444.9 699.3 450.0 697.7C455.1 696.1 459.4 693.0 463.3 690.0C467.2 687.0 479.0 674.8 483.3 671.7C487.6 668.6 495.7 665.4 500.0 663.5C504.3 661.6 514.2 656.7 520.0 655.3C525.8 653.9 542.0 653.0 550.0 651.3C558.0 649.5 578.9 642.8 588.5 640.3C598.1 637.8 620.1 634.5 632.0 629.6C643.9 624.7 681.0 603.9 690.5 598.5C700.0 593.1 707.6 588.3 713.8 583.5C720.0 578.7 738.8 562.6 743.4 557.2C748.0 551.8 752.1 542.7 753.5 537.2C754.9 531.7 754.9 522.9 755.1 510.4C755.3 497.9 755.0 440.7 755.1 430.2C755.2 419.7 756.0 422.7 756.3 420.0C756.6 417.3 756.9 409.4 757.6 406.8C758.3 404.2 760.6 399.6 762.0 398.0C763.4 396.4 766.7 393.7 769.9 392.7C773.1 391.7 785.5 390.4 789.2 389.6C792.9 388.8 799.6 386.9 801.5 385.7C803.4 384.5 805.2 380.8 805.5 379.5C805.8 378.2 804.8 375.5 804.1 374.3C803.4 373.1 800.1 370.2 799.8 369.0C799.5 367.8 800.5 364.7 801.5 363.7C802.5 362.7 807.3 360.6 808.5 360.2C809.7 359.8 811.1 360.4 811.5 360.4"/><path class="pi" d="M144.2 805.4C146.2 806.3 157.2 811.1 161.2 812.7C165.2 814.3 174.9 818.6 178.3 819.4C181.7 820.2 186.0 820.7 190.7 819.7C195.4 818.7 210.0 813.8 218.7 811.1C227.4 808.4 257.4 799.4 265.3 796.4C273.2 793.4 276.4 791.2 286.7 785.0C297.0 778.8 337.7 752.8 353.3 743.3C368.9 733.8 408.7 708.6 420.0 703.3C431.3 698.0 444.9 699.3 450.0 697.7C455.1 696.1 459.4 693.0 463.3 690.0C467.2 687.0 479.0 674.8 483.3 671.7C487.6 668.6 495.7 665.4 500.0 663.5C504.3 661.6 514.2 656.7 520.0 655.3C525.8 653.9 542.0 653.0 550.0 651.3C558.0 649.5 578.9 642.8 588.5 640.3C598.1 637.8 620.1 634.5 632.0 629.6C643.9 624.7 681.0 603.9 690.5 598.5C700.0 593.1 707.6 588.3 713.8 583.5C720.0 578.7 738.8 562.6 743.4 557.2C748.0 551.8 752.1 542.7 753.5 537.2C754.9 531.7 754.9 522.9 755.1 510.4C755.3 497.9 755.0 440.7 755.1 430.2C755.2 419.7 756.0 422.7 756.3 420.0C756.6 417.3 756.9 409.4 757.6 406.8C758.3 404.2 760.6 399.6 762.0 398.0C763.4 396.4 766.7 393.7 769.9 392.7C773.1 391.7 785.5 390.4 789.2 389.6C792.9 388.8 799.6 386.9 801.5 385.7C803.4 384.5 805.2 380.8 805.5 379.5C805.8 378.2 804.8 375.5 804.1 374.3C803.4 373.1 800.1 370.2 799.8 369.0C799.5 367.8 800.5 364.7 801.5 363.7C802.5 362.7 807.3 360.6 808.5 360.2C809.7 359.8 811.1 360.4 811.5 360.4"/>
<path class="qo" d="M234.2 867.5C236.0 868.2 246.2 871.6 249.8 873.3C253.4 875.0 262.0 880.4 265.3 881.8C268.6 883.2 273.7 885.5 277.7 885.7C281.7 885.9 288.8 887.3 300.0 883.3C311.2 879.3 357.7 859.5 373.3 851.7C388.9 843.9 419.3 825.1 433.3 816.7C447.3 808.3 483.6 785.6 493.3 780.0C503.0 774.4 506.8 772.2 516.7 769.0C526.6 765.8 564.1 754.0 578.5 752.2C592.9 750.4 626.1 753.7 640.3 753.9C654.5 754.1 690.0 754.7 700.5 753.9C711.0 753.1 724.3 747.9 730.5 747.2C736.7 746.5 743.5 748.1 754.0 748.2C764.5 748.3 803.6 752.2 820.7 748.2C837.9 744.2 890.5 719.0 901.0 713.8C911.5 708.6 907.6 709.6 911.0 703.8C914.4 698.0 926.4 671.8 930.0 663.7C933.6 655.6 939.4 644.9 942.2 634.0C945.0 623.1 952.0 581.1 953.9 570.6C955.8 560.1 957.9 549.7 958.9 543.8C959.9 537.9 959.4 526.0 962.3 520.4C965.2 514.8 981.4 501.6 984.0 495.4C986.6 489.2 985.3 470.9 984.7 467.0C984.1 463.1 981.4 463.2 979.0 462.0C976.6 460.8 965.9 458.4 964.0 457.0C962.1 455.6 960.4 453.8 962.3 450.3C964.2 446.8 978.0 433.1 980.7 426.9C983.4 420.7 984.8 406.0 985.7 396.8C986.6 387.6 987.8 357.5 988.1 348.0C988.4 338.5 987.6 321.0 988.1 315.4C988.6 309.8 990.6 303.0 992.5 300.1C994.4 297.2 1000.5 292.8 1004.4 290.3C1008.3 287.8 1022.1 281.2 1026.2 278.4C1030.3 275.6 1035.3 269.1 1039.2 266.4C1043.1 263.7 1057.5 256.8 1059.9 255.5"/><path class="qi" d="M234.2 867.5C236.0 868.2 246.2 871.6 249.8 873.3C253.4 875.0 262.0 880.4 265.3 881.8C268.6 883.2 273.7 885.5 277.7 885.7C281.7 885.9 288.8 887.3 300.0 883.3C311.2 879.3 357.7 859.5 373.3 851.7C388.9 843.9 419.3 825.1 433.3 816.7C447.3 808.3 483.6 785.6 493.3 780.0C503.0 774.4 506.8 772.2 516.7 769.0C526.6 765.8 564.1 754.0 578.5 752.2C592.9 750.4 626.1 753.7 640.3 753.9C654.5 754.1 690.0 754.7 700.5 753.9C711.0 753.1 724.3 747.9 730.5 747.2C736.7 746.5 743.5 748.1 754.0 748.2C764.5 748.3 803.6 752.2 820.7 748.2C837.9 744.2 890.5 719.0 901.0 713.8C911.5 708.6 907.6 709.6 911.0 703.8C914.4 698.0 926.4 671.8 930.0 663.7C933.6 655.6 939.4 644.9 942.2 634.0C945.0 623.1 952.0 581.1 953.9 570.6C955.8 560.1 957.9 549.7 958.9 543.8C959.9 537.9 959.4 526.0 962.3 520.4C965.2 514.8 981.4 501.6 984.0 495.4C986.6 489.2 985.3 470.9 984.7 467.0C984.1 463.1 981.4 463.2 979.0 462.0C976.6 460.8 965.9 458.4 964.0 457.0C962.1 455.6 960.4 453.8 962.3 450.3C964.2 446.8 978.0 433.1 980.7 426.9C983.4 420.7 984.8 406.0 985.7 396.8C986.6 387.6 987.8 357.5 988.1 348.0C988.4 338.5 987.6 321.0 988.1 315.4C988.6 309.8 990.6 303.0 992.5 300.1C994.4 297.2 1000.5 292.8 1004.4 290.3C1008.3 287.8 1022.1 281.2 1026.2 278.4C1030.3 275.6 1035.3 269.1 1039.2 266.4C1043.1 263.7 1057.5 256.8 1059.9 255.5"/>
<circle cx="810.8" cy="360.4" r="3" fill="#fff" stroke="#000" stroke-width="1.8"/>
<path class="ho" d="M1059.9 255.5L1108.9 227.2Q1120 222.5 1138 224Q1147.5 222 1146.5 214Q1145.5 207 1139.3 204L944.7 96.5Q934 88 926 86.5Q916.5 87 916.3 98L915.8 115"/><path class="hi" d="M1059.9 255.5L1108.9 227.2Q1120 222.5 1138 224Q1147.5 222 1146.5 214Q1145.5 207 1139.3 204L944.7 96.5Q934 88 926 86.5Q916.5 87 916.3 98L915.8 115"/>
<path d="M684.9 597.4L688.3 603.7" stroke="#000" stroke-width="1.6" fill="none"/>
<path d="M693.7 592.7L697.1 599.0" stroke="#000" stroke-width="1.6" fill="none"/>
<path d="M758.4 502.0L751.2 502.0" stroke="#000" stroke-width="1.6" fill="none"/>
<path d="M758.4 514.0L751.2 514.0" stroke="#000" stroke-width="1.6" fill="none"/>
<path d="M753.0 744.8L753.0 753.2" stroke="#000" stroke-width="1.6" fill="none"/>
<path d="M769.0 744.8L769.0 753.2" stroke="#000" stroke-width="1.6" fill="none"/>
<path d="M954.3 549.6L962.5 551.1" stroke="#000" stroke-width="1.6" fill="none"/>
<path d="M957.1 533.9L965.3 535.4" stroke="#000" stroke-width="1.6" fill="none"/>
<path d="M1051.3 254.7L1056.3 263.3" stroke="#000" stroke-width="1.6" fill="none"/>
<path d="M1063.5 247.7L1068.5 256.3" stroke="#000" stroke-width="1.6" fill="none"/>
</g>
<g id="misc" stroke-linejoin="round" stroke-linecap="round">
<path d="M1040.4 51.0L1093.2 20.6" fill="none" stroke="#000" stroke-width="1"/>
<path d="M1093.2 20.6C1094.1 20.3 1097.5 18.9 1099.4 18.9C1101.4 18.9 1105.2 18.8 1108.1 20.6C1111.1 22.3 1119.0 29.3 1121.8 32.4C1124.6 35.4 1127.8 40.7 1129.3 43.5C1130.7 46.4 1132.4 50.5 1133.0 53.5C1133.6 56.5 1133.7 63.1 1133.6 65.9C1133.5 68.7 1132.9 72.9 1132.4 74.6C1131.8 76.3 1129.7 78.4 1129.3 78.9" fill="none" stroke="#000" stroke-width="1"/>
<path d="M1129.3 78.9L1077.1 108.1" fill="none" stroke="#000" stroke-width="1"/>
<path d="M1040.4 51.0C1042.3 50.7 1044.7 51.5 1047.3 52.9C1049.8 54.2 1056.7 58.4 1059.7 60.9C1062.7 63.5 1067.5 69.0 1069.6 72.1C1071.8 75.3 1074.8 81.2 1075.8 84.5C1076.9 87.8 1077.9 93.8 1077.7 97.0C1077.5 100.1 1075.8 106.0 1074.6 108.1C1073.4 110.3 1070.4 112.4 1068.4 113.1C1066.4 113.9 1061.8 114.2 1059.7 113.7C1057.5 113.2 1054.2 110.8 1052.2 109.4C1050.2 108.0 1047.1 105.8 1044.8 103.2C1042.5 100.5 1036.7 93.0 1034.8 89.5C1032.9 86.0 1031.2 80.4 1030.5 77.1C1029.8 73.8 1029.5 67.6 1029.9 64.7C1030.2 61.8 1031.6 57.2 1033.0 55.3C1034.4 53.5 1038.5 51.3 1040.4 51.0Z" fill="none" stroke="#000" stroke-width="1.2"/>
<path d="M1039.8 52.9C1040.8 53.1 1044.8 53.5 1047.3 54.7C1049.8 56.0 1055.7 59.8 1058.4 62.2C1061.2 64.6 1065.7 69.8 1067.8 72.7C1069.8 75.7 1072.9 81.4 1074.0 84.5C1075.0 87.7 1075.8 93.4 1075.6 96.3C1075.4 99.3 1073.8 104.9 1072.7 106.9C1071.6 108.9 1068.1 110.7 1067.4 111.2" fill="none" stroke="#000" stroke-width="1"/>
<path d="M1039.2 52.0C1038.3 52.6 1033.7 54.5 1032.4 56.2C1031.0 57.9 1029.6 62.2 1029.3 64.7C1028.9 67.1 1029.6 73.3 1029.6 74.6" fill="none" stroke="#000" stroke-width="2"/>
<ellipse cx="1046.0" cy="71.5" rx="3.1" ry="5.0" transform="rotate(20 1046.0 71.5)" fill="none" stroke="#000" stroke-width="1"/>
<path d="M1043.5 67.1L1052.9 62.2" fill="none" stroke="#000" stroke-width="1"/>
<path d="M1048.5 75.8L1057.8 69.6" fill="none" stroke="#000" stroke-width="1"/>
<path d="M1052.9 62.2C1053.4 62.3 1055.9 62.4 1056.6 63.4C1057.2 64.4 1057.7 68.8 1057.8 69.6" fill="none" stroke="#000" stroke-width="1"/>
<path d="M1047.9 64.7C1048.4 64.9 1051.0 65.4 1051.6 66.5C1052.3 67.6 1052.7 71.9 1052.9 72.7" fill="none" stroke="#000" stroke-width="1"/>
<path d="M1050.4 63.4C1050.9 63.7 1053.4 64.2 1054.1 65.3C1054.8 66.4 1055.2 70.7 1055.3 71.5" fill="none" stroke="#000" stroke-width="1"/>
<ellipse cx="1041.7" cy="85.8" rx="3.7" ry="6.0" transform="rotate(20 1041.7 85.8)" fill="none" stroke="#000" stroke-width="1.3"/>
<ellipse cx="1042.0" cy="85.8" rx="1.5" ry="4.7" transform="rotate(20 1042.0 85.8)" fill="none" stroke="#000" stroke-width="1"/>
<path d="M1039.2 80.2L1047.3 76.5" fill="none" stroke="#000" stroke-width="1"/>
<path d="M1044.8 91.4L1053.5 85.8" fill="none" stroke="#000" stroke-width="1"/>
<path d="M1047.3 76.5C1047.9 76.9 1051.4 78.3 1052.2 79.6C1053.1 80.8 1053.3 84.9 1053.5 85.8" fill="none" stroke="#000" stroke-width="1"/>
<path d="M1043.5 78.1C1044.2 78.5 1047.7 80.1 1048.5 81.4C1049.3 82.8 1049.6 87.1 1049.8 88.0" fill="none" stroke="#000" stroke-width="1"/>
<path d="M1043.5 105.7L1052.2 99.4L1057.8 101.9L1059.7 109.4L1048.5 115.6Z" fill="#fff" stroke="#000" stroke-width="0"/>
<ellipse cx="1045.8" cy="110.4" rx="3.1" ry="5.2" transform="rotate(20 1045.8 110.4)" fill="#fff" stroke="#000" stroke-width="1.5"/>
<path d="M1043.5 105.7L1052.2 99.4" fill="none" stroke="#000" stroke-width="1"/>
<path d="M1048.5 115.6L1059.7 109.4" fill="none" stroke="#000" stroke-width="1"/>
<path d="M1052.2 99.4C1053.0 99.8 1056.8 100.6 1057.8 101.9C1058.8 103.3 1059.4 108.4 1059.7 109.4" fill="none" stroke="#000" stroke-width="1"/>
<path d="M1048.5 101.9C1049.2 102.3 1052.6 103.2 1053.5 104.4C1054.4 105.7 1055.1 110.3 1055.3 111.2" fill="none" stroke="#000" stroke-width="1"/>
<path d="M1040.4 108.1L1041.1 106.3L1042.9 105.7" fill="none" stroke="#000" stroke-width="3"/>
<path d="M1090.7 64.7L1097.0 68.4L1099.4 59.7L1104.4 56.0L1114.3 50.4L1116.2 53.5L1116.2 67.1L1109.4 74.6L1095.7 83.3Z" fill="none" stroke="#000" stroke-width="1.2"/>
<path d="M1104.4 56.0L1103.8 77.1" fill="none" stroke="#000" stroke-width="1.2"/>
<path d="M1109.4 52.9L1109.4 74.6" fill="none" stroke="#000" stroke-width="1.2"/>
<path d="M1099.4 65.9L1116.2 58.4" fill="none" stroke="#000" stroke-width="1.2"/>
<path d="M1103.8 69.6L1116.2 63.4" fill="none" stroke="#000" stroke-width="1.2"/>
<path d="M1097.0 68.4L1104.4 64.7" fill="none" stroke="#000" stroke-width="1.2"/>
<path d="M1097.0 59.7L1099.4 65.9L1097.0 68.4" fill="none" stroke="#000" stroke-width="1.2"/>
<path d="M1080.8 108.0L1092.0 127.8L1093.2 129.7L1087.0 138.4" fill="none" stroke="#000" stroke-width="1"/>
<path d="M1093.2 100.5L1094.5 111.1L1099.4 122.2L1097.0 129.7" fill="none" stroke="#000" stroke-width="1"/>
<path d="M1099.4 97.4L1100.1 108.6L1104.4 119.8L1106.3 126.0" fill="none" stroke="#000" stroke-width="1"/>
<path d="M1106.3 92.4L1107.5 107.3L1109.4 117.3L1113.1 121.0" fill="none" stroke="#000" stroke-width="1"/>
<path d="M1111.2 118.5L1126.8 115.4" fill="none" stroke="#000" stroke-width="1"/>
<path d="M1095.7 112.3L1101.9 126.0" fill="none" stroke="#000" stroke-width="1"/>
<path d="M1101.9 111.1L1106.9 122.2" fill="none" stroke="#000" stroke-width="1"/>
<path d="M1079.6 142.1L1082.0 139.6L1087.0 138.4L1126.8 115.4L1129.3 111.7L1134.2 110.1L1139.8 111.7L1141.7 115.4L1140.4 119.1L1136.7 121.0L1131.7 120.4L1092.0 147.1L1089.5 148.9L1083.3 148.9L1079.6 145.8Z" fill="none" stroke="#000" stroke-width="1.1"/>
<path d="M1090.1 141.5L1129.9 118.8" fill="none" stroke="#000" stroke-width="1"/>
<ellipse cx="1086.4" cy="142.5" rx="2.2" ry="1.5" transform="rotate(0 1086.4 142.5)" fill="none" stroke="#000" stroke-width="1"/>
<ellipse cx="1134.8" cy="114.2" rx="2.7" ry="1.6" transform="rotate(0 1134.8 114.2)" fill="none" stroke="#000" stroke-width="1"/>
<path d="M1010.0 112.5L1017.5 116.0" fill="none" stroke="#000" stroke-width="1"/>
<path d="M1021.2 118.5L1025.5 120.7" fill="none" stroke="#000" stroke-width="1"/>
<path d="M1028.6 120.7L1046.0 112.0" fill="none" stroke="#000" stroke-width="1"/>
<path d="M915.5 85.8L918.0 62.2L919.8 44.8" fill="none" stroke="#000" stroke-width="2"/>
<path d="M909.9 49.8L916.1 38.6L920.4 34.7L926.0 34.7L929.5 39.3L929.8 52.3L927.3 61.0L925.4 81.5" fill="none" stroke="#000" stroke-width="2"/>
<path d="M919.8 44.8L919.8 62.9" fill="none" stroke="#000" stroke-width="2.5"/>
<path d="M928.5 52.9L931.6 52.9L931.6 57.9L927.9 61.6" fill="none" stroke="#000" stroke-width="1.6"/>
<path d="M899.3 60.4L902.4 56.0L906.8 54.8L910.5 49.8L916.7 56.0L916.7 62.9L911.1 63.5L910.5 67.8L907.4 69.4L903.7 67.2Z" fill="#fff" stroke="#000" stroke-width="2.2"/>
<path d="M907.4 54.2L913.6 59.8" fill="none" stroke="#000" stroke-width="1.2"/>
<path d="M909.1 53.4L914.8 59.3" fill="none" stroke="#000" stroke-width="1.2"/>
<path d="M910.9 52.7L916.1 58.8" fill="none" stroke="#000" stroke-width="1.2"/>
<path d="M912.6 51.9L917.3 58.3" fill="none" stroke="#000" stroke-width="1.2"/>
<path d="M911.1 59.8L916.7 59.8L916.7 62.9L911.1 63.5Z" fill="#000" stroke="#000" stroke-width="1"/>
<path d="M940.7 88.6L937.8 96.0" fill="none" stroke="#000" stroke-width="2"/>
<path d="M954.0 95.5L948.4 103.5" fill="none" stroke="#000" stroke-width="2"/>
<ellipse cx="915.7" cy="115.9" rx="4.7" ry="2.5" transform="rotate(0 915.7 115.9)" fill="#fff" stroke="#000" stroke-width="1.8"/>
<path d="M921.7 94.5L921.1 107.0" fill="none" stroke="#000" stroke-width="3"/>
<path d="M932.2 50.4L942.2 44.6L969.5 59.5" fill="none" stroke="#000" stroke-width="1"/>
<path d="M972.6 62.2L978.2 64.5" fill="none" stroke="#000" stroke-width="1"/>
<path d="M981.3 67.0L990.6 71.2L965.2 86.8L968.9 87.7" fill="none" stroke="#000" stroke-width="1"/>
<path d="M972.0 90.2L978.2 92.7" fill="none" stroke="#000" stroke-width="1"/>
<path d="M980.1 95.2L1018.0 115.7" fill="none" stroke="#000" stroke-width="1"/>
<path d="M1021.1 118.1L1026.0 120.6" fill="none" stroke="#000" stroke-width="1"/>
<path d="M1029.1 120.4L1046.5 111.3" fill="none" stroke="#000" stroke-width="1"/>
<path d="M956.5 125.6L981.9 122.5L983.8 133.7" fill="none" stroke="#000" stroke-width="1"/>
<path d="M1046.0 176.3L1066.5 171.9L1068.4 190.6" fill="none" stroke="#000" stroke-width="1"/>
<path d="M205.5 476.5L205.5 514.5" fill="none" stroke="#000" stroke-width="1"/>
<path d="M155.8 520.5L258.7 521.5L308.2 546.2" fill="none" stroke="#000" stroke-width="2"/>
<path d="M155.8 521.1L219.1 549.8L319.0 549.8" fill="none" stroke="#000" stroke-width="2"/>
<path d="M155.4 520.7L161.8 520.7" fill="none" stroke="#000" stroke-width="3"/>
<path d="M307.2 548.4C308.1 546.6 312.4 537.2 314.1 535.0C315.8 532.7 318.6 531.5 320.0 531.4C321.5 531.3 324.4 532.4 325.0 534.0C325.5 535.5 324.8 540.8 324.0 542.9C323.2 545.0 319.7 548.9 319.0 549.8" fill="none" stroke="#000" stroke-width="2"/>
<ellipse cx="317.1" cy="539.9" rx="1.8" ry="2.8" transform="rotate(15 317.1 539.9)" fill="none" stroke="#000" stroke-width="1.8"/>
<path d="M262.7 549.8C262.6 552.0 261.9 563.8 262.3 566.6C262.7 569.4 264.4 570.2 265.6 570.6C266.9 571.0 270.1 570.6 271.6 569.6C273.0 568.5 275.4 565.3 276.5 562.7C277.6 560.0 279.1 551.5 279.5 549.8" fill="none" stroke="#000" stroke-width="2"/>
<ellipse cx="269.6" cy="559.7" rx="4.4" ry="2.6" transform="rotate(-35 269.6 559.7)" fill="none" stroke="#000" stroke-width="2.2"/>
<path d="M269.6 561.7L297.3 578.5" fill="none" stroke="#000" stroke-width="1"/>
<path d="M259.7 555.7L253.4 553.2L253.4 587.4" fill="none" stroke="#000" stroke-width="1"/>
<path d="M253.4 592.3L253.4 610.1" fill="none" stroke="#000" stroke-width="1"/>
<path d="M230.0 596.3L253.4 609.7" fill="none" stroke="#000" stroke-width="1"/>
<path d="M424.2 512.5L467 512.5" fill="none" stroke="#000" stroke-width="1"/>
<path d="M366.4 473.0L383.5 481.8L395.9 488.8L413.0 506.7" fill="none" stroke="#000" stroke-width="2.5"/>
<path d="M383.5 482.6L405.2 505.1" fill="none" stroke="#000" stroke-width="1.5"/>
<path d="M368.7 476.4L364.5 486.5L368.7 488.0L374.2 479.5" fill="none" stroke="#000" stroke-width="1.8"/>
<path d="M404.4 505.1L408.3 504.3L415.3 509.0L415.3 513.7L413.0 516.8L402.1 517.5L401.3 514.4L404.4 509.8Z" fill="none" stroke="#000" stroke-width="2.2"/>
<path d="M408.3 505.1L408.3 512.1" fill="none" stroke="#000" stroke-width="1.5"/>
<path d="M410.7 506.8L410.7 512.8" fill="none" stroke="#000" stroke-width="1.5"/>
<path d="M413.0 508.4L413.0 513.5" fill="none" stroke="#000" stroke-width="1.5"/>
<path d="M402.1 516.8C401.5 517.8 398.7 521.8 397.5 524.5C396.2 527.2 394.2 533.4 392.8 537.0C391.3 540.5 387.5 548.3 386.6 550.9C385.7 553.5 385.4 555.1 385.8 556.4C386.2 557.6 388.6 559.8 389.7 560.2C390.8 560.7 393.0 560.3 394.3 559.5C395.7 558.6 398.5 555.8 399.8 554.0C401.0 552.3 402.8 549.0 403.7 546.3C404.5 543.6 405.2 537.0 406.0 533.9C406.8 530.7 408.9 525.3 409.9 523.0C410.8 520.7 412.6 517.6 413.0 516.8" fill="none" stroke="#000" stroke-width="2.2"/>
<path d="M403.7 527.6C403.1 527.7 400.8 527.6 399.8 528.4C398.7 529.2 397.0 531.1 395.9 533.9C394.8 536.6 392.1 546.3 391.2 549.4C390.4 552.5 389.9 556.1 389.7 557.1" fill="none" stroke="#000" stroke-width="1.3"/>
<path d="M405.2 530.7C405.0 532.4 404.4 540.3 403.7 543.2C402.9 546.1 400.3 551.2 399.8 552.5" fill="none" stroke="#000" stroke-width="1.3"/>
<path d="M393.6 549.4L396.7 546.3L398.2 551.7L393.6 552.5Z" fill="none" stroke="#000" stroke-width="2"/>
<path d="M70.5 687L70.5 711" fill="none" stroke="#000" stroke-width="1"/>
<path d="M158.5 687L158.5 742.5" fill="none" stroke="#000" stroke-width="1"/>
<path d="M199.5 687L199.5 769" fill="none" stroke="#000" stroke-width="1"/>
<path d="M65.8 713.8L70.1 711.9L75.1 713.8L110.6 774.5L109.7 781.9L104.0 785.7L34.0 785.7L29.0 781.9L28.4 775.4Z" fill="none" stroke="#000" stroke-width="2.2"/>
<path d="M70.1 720.3L102.2 778.2L35.9 778.2Z" fill="none" stroke="#000" stroke-width="1.8"/>
<path d="M50.8 761.4C50.6 759.1 52.9 754.8 54.6 753.0C56.2 751.2 60.5 748.5 63.0 748.0C65.4 747.5 71.5 748.2 73.2 749.3C74.9 750.3 75.6 753.9 75.7 755.8C75.7 757.7 75.2 761.5 73.8 763.3C72.3 765.0 67.1 767.9 64.8 768.9C62.5 769.8 58.3 771.4 56.4 770.4C54.6 769.4 51.1 763.7 50.8 761.4Z" fill="#000" stroke="#000" stroke-width="1"/>
<path d="M58.3 756.7L63.9 753.9L63.9 761.4L59.2 763.3Z" fill="#fff" stroke="#000" stroke-width="0"/>
<path d="M66.7 752.1L68.9 751.1L70.1 763.3L67.6 764.8Z" fill="#fff" stroke="#000" stroke-width="0"/>
<path d="M47.6 763.3L58.3 759.9" fill="none" stroke="#000" stroke-width="3"/>
<path d="M48.0 769.2L60.2 764.8" fill="none" stroke="#000" stroke-width="3"/>
<path d="M76.0 750.6C76.8 750.3 80.3 748.1 81.6 748.3C82.9 748.5 85.4 750.6 85.7 752.1C86.0 753.6 84.8 758.0 83.9 759.5C83.0 761.0 79.1 762.2 78.8 763.3C78.5 764.4 80.2 767.2 81.6 767.9C83.1 768.7 88.4 768.8 89.5 768.9" fill="none" stroke="#000" stroke-width="3"/>
<path d="M103 756.5L126.5 756.5" fill="none" stroke="#000" stroke-width="1"/>
<path d="M118.1 736.2L121.8 732.5L150.7 744.6L143.3 759.5L132.1 752.1L120.9 745.5Z" fill="none" stroke="#000" stroke-width="2.2"/>
<path d="M121.8 739.0L141.4 750.2" fill="none" stroke="#000" stroke-width="1"/>
<ellipse cx="164.2" cy="760.5" rx="11.2" ry="17.7" transform="rotate(22 164.2 760.5)" fill="#fff" stroke="#000" stroke-width="2.4"/>
<ellipse cx="165.3" cy="761.4" rx="8.4" ry="14.2" transform="rotate(22 165.3 761.4)" fill="none" stroke="#000" stroke-width="1.8"/>
<ellipse cx="166.2" cy="762.3" rx="6.0" ry="10.8" transform="rotate(22 166.2 762.3)" fill="none" stroke="#000" stroke-width="1.2"/>
<path d="M158.2 743.1C157.0 743.3 151.0 743.4 148.9 744.6C146.8 745.8 143.7 749.8 142.3 752.1C141.0 754.3 138.5 758.9 138.6 761.4C138.7 763.9 141.2 768.6 143.3 770.7C145.4 772.9 153.0 776.9 154.5 777.8" fill="none" stroke="#000" stroke-width="2.4"/>
<path d="M150.7 747.4C150.0 748.6 145.9 754.1 145.1 756.7C144.3 759.4 144.8 765.6 144.8 767.0" fill="none" stroke="#000" stroke-width="1.8"/>
<path d="M150.7 752.1L154.5 753.9" fill="none" stroke="#000" stroke-width="1.5"/>
<path d="M147.0 767.0L150.7 768.9" fill="none" stroke="#000" stroke-width="1.5"/>
<path d="M164.8 763.3L184.4 775.4" fill="none" stroke="#000" stroke-width="1"/>
<path d="M203.2 793.3C202.3 793.9 198.8 797.2 197.0 798.0C195.1 798.7 191.0 799.3 189.2 798.7C187.4 798.1 184.6 795.3 183.8 793.3C182.9 791.3 182.7 786.5 183.0 784.0C183.3 781.5 184.6 776.7 186.1 774.7C187.5 772.6 191.7 769.2 193.9 768.4C196.0 767.7 200.6 768.4 202.4 769.2C204.2 770.1 206.3 772.6 207.0 774.7C207.8 776.7 207.7 783.4 207.8 784.8" fill="none" stroke="#000" stroke-width="2.2"/>
<path d="M200.1 790.2C199.3 790.7 196.0 793.7 194.6 794.1C193.3 794.5 190.9 794.2 190.0 793.3C189.0 792.4 187.7 789.2 187.6 787.1C187.5 785.0 188.3 779.7 189.2 777.8C190.1 775.8 193.0 773.1 194.6 772.3C196.3 771.6 200.4 771.6 201.6 772.3C202.9 773.1 203.6 776.0 203.9 777.8C204.3 779.5 203.9 784.5 203.9 785.5" fill="none" stroke="#000" stroke-width="2.2"/>
<path d="M193.1 781.6L208.6 791.7" fill="none" stroke="#000" stroke-width="1"/>
<path d="M175.2 770.0L183.8 775.9" fill="none" stroke="#000" stroke-width="1"/>
<path d="M229.6 801.1L217.1 793.3L213.3 790.2" fill="none" stroke="#000" stroke-width="1.8"/>
<path d="M224.9 806.0L212.5 801.1L209.4 798.7" fill="none" stroke="#000" stroke-width="1.8"/>
<ellipse cx="211.7" cy="794.8" rx="2.6" ry="5.0" transform="rotate(25 211.7 794.8)" fill="#fff" stroke="#000" stroke-width="1.8"/>
<path d="M217.1 791.7L214.8 800.3" fill="none" stroke="#000" stroke-width="1.5"/>
<path d="M144.2 801.8L143.4 801.1L138.0 798.7L127.1 796.4L124.0 799.5L125.5 803.4L134.8 807.3L144.2 808.8Z" fill="#fff" stroke="#000" stroke-width="1.8"/>
<path d="M129.4 798.0L131.0 804.9" fill="none" stroke="#000" stroke-width="1.2"/>
<path d="M138.0 799.2L138.7 807.3" fill="none" stroke="#000" stroke-width="1.5"/>
<path d="M141.1 800.3L141.8 808.0" fill="none" stroke="#000" stroke-width="1.5"/>
<path d="M162.5 809.6L161.2 815.8" fill="none" stroke="#000" stroke-width="1.5"/>
<path d="M169.0 811.9L168.2 818.1" fill="none" stroke="#000" stroke-width="1.5"/>
<ellipse cx="217.1" cy="865.0" rx="9.6" ry="9.9" transform="rotate(0 217.1 865.0)" fill="#fff" stroke="#000" stroke-width="2.2"/>
<ellipse cx="216.4" cy="865.0" rx="5.9" ry="6.8" transform="rotate(0 216.4 865.0)" fill="none" stroke="#000" stroke-width="1.8"/>
<path d="M211.7 865.0L213.7 860.8L218.7 860.4L221.0 864.7L219.0 869.1L213.7 869.4Z" fill="none" stroke="#000" stroke-width="1.5"/>
<path d="M221.8 855.7L228.0 860.1L234.2 863.2" fill="none" stroke="#000" stroke-width="1.8"/>
<path d="M221.8 874.8L228.0 873.7L234.2 872.5" fill="none" stroke="#000" stroke-width="1.8"/>
<path d="M225.7 858.5L226.5 873.3" fill="none" stroke="#000" stroke-width="1.5"/>
<path d="M229.6 860.8L229.9 873.3" fill="none" stroke="#000" stroke-width="1.5"/>
<path d="M234.2 863.2L234.2 872.5" fill="none" stroke="#000" stroke-width="1.8"/>
<path d="M257.2 873.3L256.0 882.6" fill="none" stroke="#000" stroke-width="1.5"/>
<path d="M265.3 877.1L264.0 886.1" fill="none" stroke="#000" stroke-width="1.5"/>
</g>
<g id="leaders" fill="none" stroke="#000" stroke-width="1" shape-rendering="crispEdges">
<path d="M588.5 563V637M782.5 676V740"/>
<path d="M740.6 570.5H812" stroke-dasharray="42 3 5 3"/>
<path d="M863 570.5H946.4" stroke-dasharray="38 3 5 3"/>
</g>
<g fill="none" stroke="#000" stroke-width="1">
<path d="M838 189.7L700 269.2" stroke-dasharray="62 3 6 3"/>
<path d="M700 269.2L833 346.1" stroke-dasharray="30 3 6 3"/>
<path d="M834 346.3L816 356.7"/>
</g>
<g id="callouts">
<circle class="c" cx="934.8" cy="138.1" r="23.5"/><text class="n" transform="translate(934.8,147.6) scale(1.09,1)">16</text>
<circle class="c" cx="982" cy="164.3" r="23.5"/><text class="n" transform="translate(982,173.8) scale(1.09,1)">17</text>
<circle class="c" cx="1024.8" cy="191.3" r="23.5"/><text class="n" transform="translate(1024.8,200.8) scale(1.09,1)">18</text>
<circle class="c" cx="1068.2" cy="216.4" r="23.5"/><text class="n" transform="translate(1068.2,225.9) scale(1.09,1)">6</text>
<circle class="c" cx="765.6" cy="359.2" r="23.5"/><text class="n" transform="translate(765.6,368.7) scale(1.09,1)">5</text>
<circle class="c" cx="667.7" cy="459.5" r="23.5"/><text class="n" transform="translate(667.7,469.0) scale(1.09,1)">8</text>
<circle class="c" cx="722.6" cy="459.5" r="23.5"/><text class="n" transform="translate(722.6,469.0) scale(1.09,1)">13</text>
<circle class="c" cx="889" cy="487" r="23.5"/><text class="n" transform="translate(889,496.5) scale(1.09,1)">8</text>
<circle class="c" cx="943.5" cy="487" r="23.5"/><text class="n" transform="translate(943.5,496.5) scale(1.09,1)">7</text>
<circle class="c" cx="838.5" cy="571.5" r="23.5"/><text class="n" transform="translate(838.5,581.0) scale(1.09,1)">19</text>
<circle class="c" cx="208" cy="583" r="23.5"/><text class="n" transform="translate(208,592.5) scale(1.09,1)">10</text>
<circle class="c" cx="351.5" cy="660.7" r="23.5"/><text class="n" transform="translate(351.5,670.2) scale(1.09,1)">8</text>
<circle class="c" cx="350.7" cy="711.5" r="23.5"/><text class="n" transform="translate(350.7,721.0) scale(1.09,1)">4</text>
<circle class="c" cx="953.5" cy="692" r="23.5"/><text class="n" transform="translate(953.5,701.5) scale(1.09,1)">7</text>
<circle class="c" cx="1006" cy="692" r="23.5"/><text class="n" transform="translate(1006,701.5) scale(1.09,1)">8</text>
<circle class="c" cx="882" cy="756" r="23.5"/><text class="n" transform="translate(882,765.5) scale(1.09,1)">14</text>
<circle class="c" cx="919.5" cy="793.5" r="23.5"/><text class="n" transform="translate(919.5,803.0) scale(1.09,1)">8</text>
<circle class="c" cx="596.3" cy="786.8" r="23.5"/><text class="n" transform="translate(596.3,796.3) scale(1.09,1)">3</text>
<circle class="c" cx="597.3" cy="837.5" r="23.5"/><text class="n" transform="translate(597.3,847.0) scale(1.09,1)">8</text>
<circle class="c" cx="670.8" cy="784.3" r="23.5"/><text class="n" transform="translate(670.8,793.8) scale(1.09,1)">15</text>
<circle class="c" cx="728.2" cy="780.5" r="23.5"/><text class="n" transform="translate(728.2,790.0) scale(1.09,1)">12</text>
<circle class="c" cx="508" cy="812.7" r="23.5"/><text class="n" transform="translate(508,822.2) scale(1.09,1)">3</text>
<circle class="c" cx="508.6" cy="863.6" r="23.5"/><text class="n" transform="translate(508.6,873.1) scale(1.09,1)">8</text>
<text class="n" transform="translate(203.3,471.5) scale(1.09,1)">9</text>
<text class="n" transform="translate(487,521) scale(1.09,1)">11</text>
<text class="n" transform="translate(586,553) scale(1.09,1)">1</text>
<text class="n" transform="translate(781.5,665.3) scale(1.09,1)">2</text>
<text class="n" transform="translate(70.7,681.5) scale(1.09,1)">22</text>
<text class="n" transform="translate(160,681.5) scale(1.09,1)">20</text>
<text class="n" transform="translate(202.3,681.5) scale(1.09,1)">21</text>
</g>
</svg>
</body></html>
